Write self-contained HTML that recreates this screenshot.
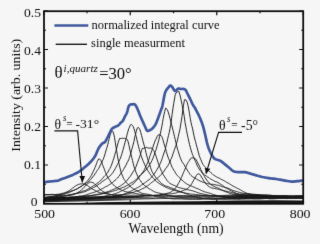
<!DOCTYPE html>
<html><head><meta charset="utf-8"><style>html,body{margin:0;padding:0;background:#f6f6f6;overflow:hidden}svg{display:block;will-change:transform}</style></head>
<body><svg width="320" height="244" viewBox="0 0 320 244"><rect width="320" height="244" fill="#f6f6f6"/><defs><filter id="bl" x="0" y="0" width="320" height="244" filterUnits="userSpaceOnUse"><feConvolveMatrix order="3" kernelMatrix="0.00524 0.06192 0.00524 0.06192 0.73137 0.06192 0.00524 0.06192 0.00524" edgeMode="duplicate"/></filter></defs><g filter="url(#bl)"><defs><linearGradient id="bg1" x1="44" x2="303" y1="0" y2="0" gradientUnits="userSpaceOnUse"><stop offset="0" stop-color="#111" stop-opacity="0.9"/><stop offset="0.28" stop-color="#111" stop-opacity="0.8"/><stop offset="0.45" stop-color="#111" stop-opacity="0.25"/><stop offset="1" stop-color="#111" stop-opacity="0"/></linearGradient></defs><path d="M44,197.3 L80,196.6 L100,196.2 L116,195.8 L140,196.5 L160,196.5 L200,195.5 L200,197.8 L160,199.2 L120,200.5 L80,201.5 L44,202.2Z" fill="url(#bg1)"/><defs><linearGradient id="bg2" x1="220" x2="303" y1="0" y2="0" gradientUnits="userSpaceOnUse"><stop offset="0" stop-color="#111" stop-opacity="0"/><stop offset="0.3" stop-color="#111" stop-opacity="0.75"/><stop offset="1" stop-color="#111" stop-opacity="0.85"/></linearGradient></defs><path d="M220,194.5 L236,193.6 L250,193.5 L262,194.3 L276,195.2 L290,195.9 L303,196.1 L303,198.6 L276,198.4 L250,198.3 L236,198.3 L220,198.6Z" fill="url(#bg2)"/><path d="M44,203 L80,203 L100,202.2 L116,201.9 L156,201.6 L196,201.2 L236,200.4 L276,200.3 L303,200.5 L303,203.2 L44,203.2Z" fill="#151515"/><path d="M44,194.8 L62,194.9" fill="none" stroke="#111" stroke-width="0.9"/><path d="M44.00,194.82 L44.75,194.80 L45.50,194.72 L46.25,194.67 L47.00,194.61 L47.75,194.56 L48.50,194.54 L49.25,194.50 L50.00,194.53 L50.75,194.42 L51.50,194.37 L52.25,194.36 L53.00,194.42 L53.75,194.50 L54.50,194.51 L55.25,194.51 L56.00,194.46 L56.75,194.34 L57.50,194.29 L58.25,194.28 L59.00,194.21 L59.75,194.03 L60.50,193.88 L61.25,193.64 L62.00,193.44 L62.75,193.23 L63.50,193.06 L64.25,192.89 L65.00,192.61 L65.75,192.33 L66.50,191.99 L67.25,191.56 L68.00,191.27 L68.75,190.90 L69.50,190.52 L70.25,189.90 L71.00,189.36 L71.75,188.75 L72.50,188.14 L73.25,187.70 L74.00,187.13 L74.75,186.44 L75.50,185.98 L76.25,185.46 L77.00,185.12 L77.75,184.73 L78.50,184.39 L79.25,184.19 L80.00,184.03 L80.75,183.89 L81.50,183.95 L82.25,183.77 L83.00,183.75 L83.75,183.89 L84.50,184.05 L85.25,184.48 L86.00,184.75 L86.75,185.05 L87.50,185.55 L88.25,186.12 L89.00,186.71 L89.75,187.31 L90.50,187.71 L91.25,188.33 L92.00,188.81 L92.75,189.29 L93.50,189.62 L94.25,189.99 L95.00,190.46 L95.75,190.95 L96.50,191.28 L97.25,191.75 L98.00,192.04 L98.75,192.22 L99.50,192.47 L100.25,192.80 L101.00,193.05 L101.75,193.16 L102.50,193.17 L103.25,193.34 L104.00,193.44 L104.75,193.51 L105.50,193.76 L106.25,193.86 L107.00,193.93 L107.75,194.01 L108.50,194.20 L109.25,194.36 L110.00,194.42 L110.75,194.57 L111.50,194.66 L112.25,194.60 L113.00,194.75 L113.75,194.76 L114.50,194.80 L115.25,194.76 L116.00,194.75 L116.75,194.79 L117.50,194.74 L118.25,194.72 L119.00,194.82 L119.75,194.81 L120.50,194.86 L121.25,194.90 L122.00,194.96 L122.75,194.96 L123.50,194.95 L124.25,194.99 L125.00,195.11 L125.75,195.12 L126.50,195.13 L127.25,195.20 L128.00,195.16 L128.75,195.19 L129.50,195.20 L130.25,195.32 L131.00,195.35 L131.75,195.29 L132.50,195.26 L133.25,195.23 L134.00,195.22 L134.75,195.29 L135.50,195.26 L136.25,195.30 L137.00,195.27 L137.75,195.24 L138.50,195.25 L139.25,195.31 L140.00,195.33 L140.75,195.33 L141.50,195.26 L142.25,195.27 L143.00,195.32 L143.75,195.33 L144.50,195.36 L145.25,195.35 L146.00,195.37 L146.75,195.40 L147.50,195.35 L148.25,195.54 L149.00,195.61 L149.75,195.59 L150.50,195.56 L151.25,195.56 L152.00,195.62 L152.75,195.59 L153.50,195.60 L154.25,195.70 L155.00,195.50 L155.75,195.45 L156.50,195.48 L157.25,195.51 L158.00,195.53 L158.75,195.52 L159.50,195.66 L160.25,195.69 L161.00,195.63 L161.75,195.78 L162.50,195.80 L163.25,195.75 L164.00,195.71 L164.75,195.64 L165.50,195.71 L166.25,195.62 L167.00,195.62 L167.75,195.63 L168.50,195.55 L169.25,195.65 L170.00,195.65 L170.75,195.74 L171.50,195.78 L172.25,195.77 L173.00,195.75 L173.75,195.69 L174.50,195.73 L175.25,195.77 L176.00,195.63 L176.75,195.67 L177.50,195.61 L178.25,195.58 L179.00,195.48 L179.75,195.50 L180.50,195.44 L181.25,195.48 L182.00,195.46 L182.75,195.50 L183.50,195.50 L184.25,195.47 L185.00,195.53 L185.75,195.54 L186.50,195.60 L187.25,195.77 L188.00,195.70 L188.75,195.77 L189.50,195.81 L190.25,195.87 L191.00,195.85 L191.75,195.83 L192.50,195.80 L193.25,195.78 L194.00,195.72 L194.75,195.79 L195.50,195.72 L196.25,195.62 L197.00,195.60 L197.75,195.59 L198.50,195.58 L199.25,195.65 L200.00,195.69 L200.75,195.63 L201.50,195.59 L202.25,195.65 L203.00,195.70 L203.75,195.65 L204.50,195.65 L205.25,195.73 L206.00,195.68 L206.75,195.54 L207.50,195.54 L208.25,195.55 L209.00,195.56 L209.75,195.53 L210.50,195.55 L211.25,195.60 L212.00,195.51 L212.75,195.56 L213.50,195.72 L214.25,195.79 L215.00,195.86 L215.75,195.80 L216.50,195.83 L217.25,195.86 L218.00,195.86 L218.75,195.89 L219.50,195.88 L220.25,195.73 L221.00,195.72 L221.75,195.61 L222.50,195.58 L223.25,195.53 L224.00,195.53 L224.75,195.50 L225.50,195.61 L226.25,195.66 L227.00,195.79 L227.75,195.75 L228.50,195.84 L229.25,195.90 L230.00,195.97 L230.75,195.95 L231.50,196.01 L232.25,195.93 L233.00,195.81 L233.75,195.73 L234.50,195.76 L235.25,195.67 L236.00,195.68 L236.75,195.72 L237.50,195.74 L238.25,195.68 L239.00,195.76 L239.75,195.85 L240.50,195.81 L241.25,195.81 L242.00,195.85 L242.75,195.81 L243.50,195.75 L244.25,195.78 L245.00,195.89 L245.75,195.85 L246.50,195.79 L247.25,195.85 L248.00,195.92 L248.75,195.95 L249.50,196.05 L250.25,196.06 L251.00,196.06 L251.75,195.99 L252.50,196.06 L253.25,196.08 L254.00,196.09 L254.75,196.13 L255.50,196.07 L256.25,196.02 L257.00,196.11 L257.75,196.10 L258.50,196.10 L259.25,196.03 L260.00,196.01 L260.75,195.95 L261.50,195.85 L262.25,195.87 L263.00,195.81 L263.75,195.69 L264.50,195.64 L265.25,195.74 L266.00,195.68 L266.75,195.66 L267.50,195.71 L268.25,195.75 L269.00,195.69 L269.75,195.82 L270.50,195.82 L271.25,195.75 L272.00,195.70 L272.75,195.71 L273.50,195.69 L274.25,195.68 L275.00,195.64 L275.75,195.69 L276.50,195.65 L277.25,195.68 L278.00,195.76 L278.75,195.70 L279.50,195.73 L280.25,195.81 L281.00,195.85 L281.75,195.89 L282.50,195.89 L283.25,195.85 L284.00,195.88 L284.75,195.93 L285.50,195.85 L286.25,195.81 L287.00,195.78 L287.75,195.84 L288.50,195.80 L289.25,195.82 L290.00,195.76 L290.75,195.71 L291.50,195.68 L292.25,195.77 L293.00,195.89 L293.75,195.88 L294.50,195.76 L295.25,195.82 L296.00,195.78 L296.75,195.78 L297.50,195.85 L298.25,195.88 L299.00,195.89 L299.75,195.81 L300.50,195.85 L301.25,195.86 L302.00,195.82 L302.75,195.89" fill="none" stroke="#151515" stroke-width="0.92"/><path d="M44.00,197.27 L44.75,197.30 L45.50,197.18 L46.25,197.11 L47.00,197.00 L47.75,196.90 L48.50,196.85 L49.25,196.89 L50.00,196.97 L50.75,196.90 L51.50,196.80 L52.25,196.80 L53.00,196.81 L53.75,196.84 L54.50,196.80 L55.25,196.68 L56.00,196.61 L56.75,196.44 L57.50,196.35 L58.25,196.24 L59.00,196.19 L59.75,196.11 L60.50,196.06 L61.25,195.99 L62.00,195.93 L62.75,195.86 L63.50,195.77 L64.25,195.65 L65.00,195.59 L65.75,195.54 L66.50,195.36 L67.25,195.16 L68.00,195.01 L68.75,194.87 L69.50,194.71 L70.25,194.60 L71.00,194.54 L71.75,194.35 L72.50,194.14 L73.25,193.91 L74.00,193.81 L74.75,193.74 L75.50,193.53 L76.25,193.18 L77.00,192.84 L77.75,192.47 L78.50,192.15 L79.25,191.65 L80.00,191.23 L80.75,190.66 L81.50,189.83 L82.25,189.12 L83.00,188.60 L83.75,187.85 L84.50,186.88 L85.25,185.98 L86.00,185.16 L86.75,184.53 L87.50,183.84 L88.25,183.26 L89.00,182.81 L89.75,182.31 L90.50,182.09 L91.25,182.13 L92.00,182.41 L92.75,182.61 L93.50,182.89 L94.25,183.52 L95.00,184.30 L95.75,184.80 L96.50,185.71 L97.25,186.47 L98.00,187.21 L98.75,187.91 L99.50,188.86 L100.25,189.55 L101.00,190.08 L101.75,190.53 L102.50,191.13 L103.25,191.54 L104.00,191.94 L104.75,192.34 L105.50,192.66 L106.25,192.89 L107.00,193.20 L107.75,193.45 L108.50,193.81 L109.25,194.11 L110.00,194.32 L110.75,194.63 L111.50,194.86 L112.25,195.14 L113.00,195.33 L113.75,195.43 L114.50,195.58 L115.25,195.66 L116.00,195.76 L116.75,195.95 L117.50,195.90 L118.25,195.96 L119.00,195.91 L119.75,196.02 L120.50,196.15 L121.25,196.35 L122.00,196.40 L122.75,196.43 L123.50,196.53 L124.25,196.69 L125.00,196.76 L125.75,196.96 L126.50,197.07 L127.25,197.17 L128.00,197.18 L128.75,197.34 L129.50,197.44 L130.25,197.40 L131.00,197.42 L131.75,197.47 L132.50,197.38 L133.25,197.30 L134.00,197.36 L134.75,197.40 L135.50,197.43 L136.25,197.52 L137.00,197.58 L137.75,197.64 L138.50,197.69 L139.25,197.85 L140.00,197.99 L140.75,197.97 L141.50,197.99 L142.25,197.99 L143.00,197.98 L143.75,198.03 L144.50,198.03 L145.25,198.06 L146.00,198.03 L146.75,198.03 L147.50,198.06 L148.25,198.18 L149.00,198.23 L149.75,198.24 L150.50,198.29 L151.25,198.33 L152.00,198.35 L152.75,198.42 L153.50,198.42 L154.25,198.44 L155.00,198.32 L155.75,198.27 L156.50,198.28 L157.25,198.27 L158.00,198.29 L158.75,198.31 L159.50,198.24 L160.25,198.22 L161.00,198.24 L161.75,198.32 L162.50,198.37 L163.25,198.40 L164.00,198.42 L164.75,198.42 L165.50,198.44 L166.25,198.47 L167.00,198.46 L167.75,198.45 L168.50,198.31 L169.25,198.31 L170.00,198.24 L170.75,198.19 L171.50,198.14 L172.25,198.21 L173.00,198.25 L173.75,198.26 L174.50,198.22 L175.25,198.21 L176.00,198.19 L176.75,198.18 L177.50,198.15 L178.25,198.15 L179.00,198.04 L179.75,198.01 L180.50,198.00 L181.25,198.06 L182.00,198.10 L182.75,198.15 L183.50,198.19 L184.25,198.13 L185.00,198.17 L185.75,198.19 L186.50,198.13 L187.25,198.14 L188.00,198.12 L188.75,198.16 L189.50,198.09 L190.25,198.06 L191.00,198.17 L191.75,198.09 L192.50,198.01 L193.25,198.05 L194.00,198.04 L194.75,198.01 L195.50,197.96 L196.25,198.00 L197.00,198.00 L197.75,197.98 L198.50,198.07 L199.25,198.10 L200.00,198.04 L200.75,198.04 L201.50,198.04 L202.25,198.06 L203.00,198.02 L203.75,198.03 L204.50,197.94 L205.25,197.86 L206.00,197.90 L206.75,197.85 L207.50,197.84 L208.25,197.77 L209.00,197.82 L209.75,197.81 L210.50,197.89 L211.25,197.87 L212.00,197.85 L212.75,197.86 L213.50,198.01 L214.25,198.06 L215.00,198.03 L215.75,198.02 L216.50,198.01 L217.25,197.94 L218.00,198.00 L218.75,198.09 L219.50,198.03 L220.25,198.02 L221.00,197.94 L221.75,197.97 L222.50,197.92 L223.25,197.91 L224.00,197.93 L224.75,197.90 L225.50,197.87 L226.25,197.79 L227.00,197.69 L227.75,197.68 L228.50,197.70 L229.25,197.74 L230.00,197.75 L230.75,197.72 L231.50,197.70 L232.25,197.65 L233.00,197.67 L233.75,197.61 L234.50,197.62 L235.25,197.59 L236.00,197.43 L236.75,197.46 L237.50,197.45 L238.25,197.44 L239.00,197.44 L239.75,197.44 L240.50,197.52 L241.25,197.46 L242.00,197.45 L242.75,197.51 L243.50,197.50 L244.25,197.50 L245.00,197.49 L245.75,197.53 L246.50,197.57 L247.25,197.52 L248.00,197.55 L248.75,197.51 L249.50,197.50 L250.25,197.40 L251.00,197.33 L251.75,197.32 L252.50,197.32 L253.25,197.26 L254.00,197.25 L254.75,197.23 L255.50,197.25 L256.25,197.23 L257.00,197.27 L257.75,197.25 L258.50,197.15 L259.25,197.10 L260.00,197.08 L260.75,197.09 L261.50,196.99 L262.25,196.96 L263.00,196.94 L263.75,196.91 L264.50,196.93 L265.25,196.98 L266.00,197.02 L266.75,196.95 L267.50,196.89 L268.25,197.01 L269.00,196.98 L269.75,197.00 L270.50,196.94 L271.25,196.91 L272.00,196.95 L272.75,196.87 L273.50,196.86 L274.25,196.90 L275.00,196.85 L275.75,196.92 L276.50,196.95 L277.25,196.94 L278.00,196.87 L278.75,196.77 L279.50,196.74 L280.25,196.69 L281.00,196.68 L281.75,196.65 L282.50,196.55 L283.25,196.47 L284.00,196.50 L284.75,196.60 L285.50,196.59 L286.25,196.57 L287.00,196.70 L287.75,196.67 L288.50,196.65 L289.25,196.63 L290.00,196.64 L290.75,196.59 L291.50,196.54 L292.25,196.49 L293.00,196.43 L293.75,196.38 L294.50,196.32 L295.25,196.31 L296.00,196.31 L296.75,196.26 L297.50,196.18 L298.25,196.16 L299.00,196.19 L299.75,196.22 L300.50,196.18 L301.25,196.20 L302.00,196.14 L302.75,196.12" fill="none" stroke="#151515" stroke-width="0.92"/><path d="M44.00,197.76 L44.75,197.74 L45.50,197.61 L46.25,197.48 L47.00,197.38 L47.75,197.16 L48.50,197.06 L49.25,196.93 L50.00,196.80 L50.75,196.70 L51.50,196.51 L52.25,196.37 L53.00,196.21 L53.75,196.05 L54.50,195.93 L55.25,195.79 L56.00,195.60 L56.75,195.38 L57.50,195.17 L58.25,194.85 L59.00,194.71 L59.75,194.57 L60.50,194.37 L61.25,194.14 L62.00,193.98 L62.75,193.91 L63.50,193.76 L64.25,193.47 L65.00,193.35 L65.75,192.95 L66.50,192.71 L67.25,192.47 L68.00,192.23 L68.75,191.88 L69.50,191.39 L70.25,191.24 L71.00,191.03 L71.75,191.01 L72.50,190.83 L73.25,190.57 L74.00,190.21 L74.75,189.81 L75.50,189.50 L76.25,189.28 L77.00,188.87 L77.75,188.52 L78.50,187.91 L79.25,187.50 L80.00,187.03 L80.75,186.63 L81.50,186.33 L82.25,185.74 L83.00,185.12 L83.75,184.51 L84.50,183.74 L85.25,183.03 L86.00,182.48 L86.75,181.56 L87.50,180.68 L88.25,179.86 L89.00,178.86 L89.75,177.82 L90.50,176.83 L91.25,175.47 L92.00,174.04 L92.75,172.29 L93.50,170.85 L94.25,169.21 L95.00,167.48 L95.75,165.58 L96.50,163.69 L97.25,161.56 L98.00,160.08 L98.75,158.89 L99.50,158.86 L100.25,159.63 L101.00,160.79 L101.75,162.49 L102.50,164.60 L103.25,166.51 L104.00,168.33 L104.75,170.48 L105.50,172.47 L106.25,174.18 L107.00,175.87 L107.75,177.33 L108.50,178.33 L109.25,179.58 L110.00,180.69 L110.75,181.95 L111.50,182.84 L112.25,183.70 L113.00,184.60 L113.75,185.18 L114.50,185.69 L115.25,186.46 L116.00,187.04 L116.75,187.58 L117.50,188.05 L118.25,188.45 L119.00,188.79 L119.75,189.18 L120.50,189.55 L121.25,190.12 L122.00,190.32 L122.75,190.65 L123.50,190.98 L124.25,191.20 L125.00,191.48 L125.75,191.68 L126.50,191.87 L127.25,192.12 L128.00,192.20 L128.75,192.34 L129.50,192.43 L130.25,192.54 L131.00,192.61 L131.75,192.74 L132.50,193.00 L133.25,193.03 L134.00,193.04 L134.75,193.30 L135.50,193.52 L136.25,193.62 L137.00,193.72 L137.75,193.86 L138.50,194.00 L139.25,194.10 L140.00,194.32 L140.75,194.47 L141.50,194.53 L142.25,194.67 L143.00,194.78 L143.75,194.99 L144.50,195.12 L145.25,195.20 L146.00,195.21 L146.75,195.32 L147.50,195.47 L148.25,195.51 L149.00,195.53 L149.75,195.62 L150.50,195.60 L151.25,195.62 L152.00,195.61 L152.75,195.61 L153.50,195.66 L154.25,195.69 L155.00,195.82 L155.75,195.79 L156.50,195.83 L157.25,195.87 L158.00,195.92 L158.75,196.05 L159.50,196.14 L160.25,196.14 L161.00,196.22 L161.75,196.14 L162.50,196.20 L163.25,196.27 L164.00,196.26 L164.75,196.29 L165.50,196.24 L166.25,196.26 L167.00,196.22 L167.75,196.18 L168.50,196.17 L169.25,196.25 L170.00,196.16 L170.75,196.23 L171.50,196.26 L172.25,196.22 L173.00,196.23 L173.75,196.30 L174.50,196.34 L175.25,196.41 L176.00,196.40 L176.75,196.39 L177.50,196.35 L178.25,196.33 L179.00,196.40 L179.75,196.37 L180.50,196.38 L181.25,196.36 L182.00,196.30 L182.75,196.30 L183.50,196.35 L184.25,196.39 L185.00,196.43 L185.75,196.40 L186.50,196.44 L187.25,196.47 L188.00,196.43 L188.75,196.46 L189.50,196.50 L190.25,196.46 L191.00,196.44 L191.75,196.45 L192.50,196.44 L193.25,196.40 L194.00,196.37 L194.75,196.37 L195.50,196.41 L196.25,196.28 L197.00,196.33 L197.75,196.26 L198.50,196.27 L199.25,196.27 L200.00,196.23 L200.75,196.30 L201.50,196.34 L202.25,196.28 L203.00,196.37 L203.75,196.38 L204.50,196.34 L205.25,196.31 L206.00,196.40 L206.75,196.45 L207.50,196.42 L208.25,196.35 L209.00,196.39 L209.75,196.38 L210.50,196.30 L211.25,196.38 L212.00,196.44 L212.75,196.44 L213.50,196.42 L214.25,196.32 L215.00,196.40 L215.75,196.34 L216.50,196.32 L217.25,196.35 L218.00,196.44 L218.75,196.40 L219.50,196.29 L220.25,196.31 L221.00,196.30 L221.75,196.36 L222.50,196.39 L223.25,196.39 L224.00,196.31 L224.75,196.26 L225.50,196.26 L226.25,196.29 L227.00,196.29 L227.75,196.34 L228.50,196.19 L229.25,196.23 L230.00,196.24 L230.75,196.36 L231.50,196.32 L232.25,196.33 L233.00,196.40 L233.75,196.39 L234.50,196.36 L235.25,196.42 L236.00,196.38 L236.75,196.36 L237.50,196.37 L238.25,196.39 L239.00,196.34 L239.75,196.25 L240.50,196.31 L241.25,196.41 L242.00,196.33 L242.75,196.33 L243.50,196.37 L244.25,196.34 L245.00,196.33 L245.75,196.37 L246.50,196.43 L247.25,196.45 L248.00,196.39 L248.75,196.46 L249.50,196.52 L250.25,196.50 L251.00,196.54 L251.75,196.53 L252.50,196.55 L253.25,196.50 L254.00,196.42 L254.75,196.39 L255.50,196.39 L256.25,196.35 L257.00,196.37 L257.75,196.39 L258.50,196.44 L259.25,196.39 L260.00,196.43 L260.75,196.48 L261.50,196.46 L262.25,196.40 L263.00,196.37 L263.75,196.36 L264.50,196.30 L265.25,196.28 L266.00,196.30 L266.75,196.30 L267.50,196.31 L268.25,196.41 L269.00,196.46 L269.75,196.49 L270.50,196.56 L271.25,196.55 L272.00,196.53 L272.75,196.53 L273.50,196.44 L274.25,196.54 L275.00,196.48 L275.75,196.54 L276.50,196.51 L277.25,196.36 L278.00,196.47 L278.75,196.48 L279.50,196.46 L280.25,196.56 L281.00,196.43 L281.75,196.52 L282.50,196.41 L283.25,196.44 L284.00,196.55 L284.75,196.48 L285.50,196.46 L286.25,196.50 L287.00,196.49 L287.75,196.53 L288.50,196.53 L289.25,196.57 L290.00,196.58 L290.75,196.56 L291.50,196.57 L292.25,196.60 L293.00,196.56 L293.75,196.57 L294.50,196.50 L295.25,196.33 L296.00,196.37 L296.75,196.46 L297.50,196.46 L298.25,196.37 L299.00,196.33 L299.75,196.33 L300.50,196.33 L301.25,196.37 L302.00,196.46 L302.75,196.41" fill="none" stroke="#151515" stroke-width="0.92"/><path d="M44.00,198.07 L44.75,198.02 L45.50,197.80 L46.25,197.61 L47.00,197.54 L47.75,197.44 L48.50,197.30 L49.25,197.26 L50.00,197.05 L50.75,196.85 L51.50,196.73 L52.25,196.66 L53.00,196.64 L53.75,196.46 L54.50,196.29 L55.25,196.17 L56.00,195.96 L56.75,195.90 L57.50,195.83 L58.25,195.72 L59.00,195.68 L59.75,195.52 L60.50,195.35 L61.25,195.16 L62.00,194.92 L62.75,194.73 L63.50,194.53 L64.25,194.26 L65.00,194.03 L65.75,193.74 L66.50,193.43 L67.25,193.15 L68.00,192.91 L68.75,192.69 L69.50,192.37 L70.25,192.04 L71.00,191.66 L71.75,191.18 L72.50,190.85 L73.25,190.47 L74.00,190.21 L74.75,189.89 L75.50,189.58 L76.25,189.35 L77.00,188.86 L77.75,188.40 L78.50,188.04 L79.25,187.61 L80.00,187.19 L80.75,186.64 L81.50,186.04 L82.25,185.61 L83.00,185.11 L83.75,184.70 L84.50,184.21 L85.25,183.66 L86.00,183.24 L86.75,182.81 L87.50,182.36 L88.25,181.96 L89.00,181.02 L89.75,180.34 L90.50,179.68 L91.25,178.85 L92.00,177.95 L92.75,176.98 L93.50,176.14 L94.25,175.09 L95.00,173.79 L95.75,172.89 L96.50,171.53 L97.25,170.36 L98.00,169.38 L98.75,168.29 L99.50,166.90 L100.25,165.10 L101.00,163.83 L101.75,162.46 L102.50,160.74 L103.25,159.18 L104.00,157.23 L104.75,155.01 L105.50,152.21 L106.25,149.69 L107.00,147.32 L107.75,144.64 L108.50,141.32 L109.25,138.52 L110.00,135.58 L110.75,133.21 L111.50,131.28 L112.25,130.90 L113.00,131.81 L113.75,134.14 L114.50,137.31 L115.25,142.19 L116.00,147.14 L116.75,151.49 L117.50,155.84 L118.25,160.25 L119.00,163.70 L119.75,167.04 L120.50,170.07 L121.25,172.55 L122.00,174.66 L122.75,176.56 L123.50,178.37 L124.25,179.55 L125.00,180.54 L125.75,181.68 L126.50,182.60 L127.25,183.44 L128.00,184.24 L128.75,184.96 L129.50,185.56 L130.25,186.40 L131.00,187.12 L131.75,187.79 L132.50,188.23 L133.25,188.76 L134.00,189.18 L134.75,189.43 L135.50,189.96 L136.25,190.42 L137.00,190.70 L137.75,191.21 L138.50,191.60 L139.25,191.93 L140.00,192.23 L140.75,192.65 L141.50,193.16 L142.25,193.32 L143.00,193.55 L143.75,193.73 L144.50,193.81 L145.25,193.85 L146.00,193.99 L146.75,194.12 L147.50,194.23 L148.25,194.35 L149.00,194.50 L149.75,194.58 L150.50,194.78 L151.25,194.97 L152.00,195.21 L152.75,195.49 L153.50,195.74 L154.25,195.98 L155.00,196.17 L155.75,196.49 L156.50,196.65 L157.25,196.75 L158.00,196.97 L158.75,197.05 L159.50,197.14 L160.25,197.33 L161.00,197.31 L161.75,197.37 L162.50,197.32 L163.25,197.54 L164.00,197.64 L164.75,197.67 L165.50,197.82 L166.25,197.94 L167.00,197.91 L167.75,198.13 L168.50,198.29 L169.25,198.50 L170.00,198.55 L170.75,198.66 L171.50,198.73 L172.25,198.79 L173.00,198.85 L173.75,198.98 L174.50,198.99 L175.25,198.95 L176.00,198.91 L176.75,198.92 L177.50,198.95 L178.25,198.94 L179.00,199.01 L179.75,199.02 L180.50,198.98 L181.25,199.00 L182.00,199.03 L182.75,199.13 L183.50,199.12 L184.25,199.12 L185.00,199.26 L185.75,199.23 L186.50,199.30 L187.25,199.31 L188.00,199.34 L188.75,199.39 L189.50,199.34 L190.25,199.41 L191.00,199.41 L191.75,199.37 L192.50,199.38 L193.25,199.34 L194.00,199.39 L194.75,199.47 L195.50,199.42 L196.25,199.43 L197.00,199.49 L197.75,199.49 L198.50,199.44 L199.25,199.42 L200.00,199.46 L200.75,199.40 L201.50,199.29 L202.25,199.24 L203.00,199.24 L203.75,199.13 L204.50,199.14 L205.25,199.20 L206.00,199.19 L206.75,199.10 L207.50,199.09 L208.25,199.03 L209.00,199.14 L209.75,199.19 L210.50,199.23 L211.25,199.23 L212.00,199.21 L212.75,199.22 L213.50,199.23 L214.25,199.29 L215.00,199.30 L215.75,199.27 L216.50,199.18 L217.25,199.11 L218.00,199.03 L218.75,199.01 L219.50,199.08 L220.25,199.02 L221.00,198.99 L221.75,198.94 L222.50,198.98 L223.25,198.99 L224.00,199.00 L224.75,199.08 L225.50,199.06 L226.25,198.95 L227.00,198.95 L227.75,198.87 L228.50,198.93 L229.25,198.91 L230.00,198.86 L230.75,198.80 L231.50,198.72 L232.25,198.73 L233.00,198.71 L233.75,198.71 L234.50,198.73 L235.25,198.70 L236.00,198.61 L236.75,198.58 L237.50,198.63 L238.25,198.69 L239.00,198.61 L239.75,198.60 L240.50,198.61 L241.25,198.58 L242.00,198.57 L242.75,198.56 L243.50,198.59 L244.25,198.52 L245.00,198.37 L245.75,198.37 L246.50,198.29 L247.25,198.21 L248.00,198.19 L248.75,198.13 L249.50,198.03 L250.25,198.01 L251.00,198.02 L251.75,198.10 L252.50,198.05 L253.25,198.06 L254.00,198.08 L254.75,198.08 L255.50,198.09 L256.25,198.13 L257.00,198.16 L257.75,198.10 L258.50,198.05 L259.25,198.09 L260.00,198.16 L260.75,198.19 L261.50,198.15 L262.25,198.08 L263.00,198.12 L263.75,198.01 L264.50,197.99 L265.25,197.98 L266.00,197.97 L266.75,197.95 L267.50,197.92 L268.25,197.92 L269.00,197.96 L269.75,197.96 L270.50,197.97 L271.25,198.05 L272.00,197.97 L272.75,197.93 L273.50,197.91 L274.25,197.90 L275.00,197.91 L275.75,197.82 L276.50,197.69 L277.25,197.65 L278.00,197.56 L278.75,197.63 L279.50,197.58 L280.25,197.56 L281.00,197.54 L281.75,197.47 L282.50,197.53 L283.25,197.58 L284.00,197.62 L284.75,197.69 L285.50,197.59 L286.25,197.49 L287.00,197.44 L287.75,197.42 L288.50,197.52 L289.25,197.46 L290.00,197.37 L290.75,197.29 L291.50,197.15 L292.25,197.09 L293.00,197.08 L293.75,197.08 L294.50,196.98 L295.25,196.81 L296.00,196.86 L296.75,196.90 L297.50,196.95 L298.25,196.97 L299.00,196.98 L299.75,197.05 L300.50,197.01 L301.25,197.05 L302.00,197.07 L302.75,196.99" fill="none" stroke="#151515" stroke-width="0.92"/><path d="M44.00,198.21 L44.75,198.11 L45.50,197.97 L46.25,197.84 L47.00,197.81 L47.75,197.66 L48.50,197.66 L49.25,197.57 L50.00,197.53 L50.75,197.41 L51.50,197.44 L52.25,197.43 L53.00,197.47 L53.75,197.36 L54.50,197.28 L55.25,197.13 L56.00,197.04 L56.75,197.02 L57.50,196.92 L58.25,196.69 L59.00,196.65 L59.75,196.52 L60.50,196.39 L61.25,196.24 L62.00,196.18 L62.75,196.18 L63.50,196.10 L64.25,195.99 L65.00,195.93 L65.75,195.65 L66.50,195.58 L67.25,195.45 L68.00,195.33 L68.75,195.29 L69.50,195.11 L70.25,194.88 L71.00,194.76 L71.75,194.62 L72.50,194.56 L73.25,194.37 L74.00,194.23 L74.75,194.11 L75.50,193.85 L76.25,193.57 L77.00,193.40 L77.75,193.13 L78.50,192.80 L79.25,192.59 L80.00,192.30 L80.75,192.04 L81.50,191.76 L82.25,191.38 L83.00,191.22 L83.75,190.85 L84.50,190.61 L85.25,190.47 L86.00,190.03 L86.75,189.75 L87.50,189.34 L88.25,188.90 L89.00,188.51 L89.75,188.11 L90.50,187.66 L91.25,187.09 L92.00,186.60 L92.75,186.32 L93.50,185.57 L94.25,185.23 L95.00,184.82 L95.75,184.50 L96.50,183.82 L97.25,183.34 L98.00,182.88 L98.75,182.07 L99.50,181.44 L100.25,180.97 L101.00,180.11 L101.75,179.42 L102.50,178.42 L103.25,177.40 L104.00,176.70 L104.75,175.89 L105.50,175.24 L106.25,174.36 L107.00,173.22 L107.75,172.47 L108.50,170.94 L109.25,169.46 L110.00,168.50 L110.75,166.70 L111.50,165.08 L112.25,162.85 L113.00,160.59 L113.75,158.52 L114.50,155.75 L115.25,153.22 L116.00,150.98 L116.75,147.87 L117.50,145.18 L118.25,142.01 L119.00,140.18 L119.75,138.27 L120.50,138.46 L121.25,138.59 L122.00,138.19 L122.75,138.06 L123.50,138.41 L124.25,138.18 L125.00,138.50 L125.75,138.65 L126.50,139.11 L127.25,139.53 L128.00,141.32 L128.75,144.54 L129.50,147.91 L130.25,151.20 L131.00,154.35 L131.75,157.41 L132.50,160.44 L133.25,163.63 L134.00,166.68 L134.75,168.76 L135.50,171.13 L136.25,172.99 L137.00,174.60 L137.75,176.41 L138.50,177.92 L139.25,179.27 L140.00,180.32 L140.75,181.06 L141.50,182.39 L142.25,183.07 L143.00,184.05 L143.75,184.85 L144.50,185.50 L145.25,186.03 L146.00,186.61 L146.75,187.03 L147.50,187.66 L148.25,188.15 L149.00,188.64 L149.75,189.02 L150.50,189.47 L151.25,189.88 L152.00,190.52 L152.75,190.80 L153.50,191.24 L154.25,191.69 L155.00,191.96 L155.75,192.23 L156.50,192.48 L157.25,192.61 L158.00,192.94 L158.75,193.10 L159.50,193.23 L160.25,193.38 L161.00,193.46 L161.75,193.70 L162.50,193.91 L163.25,194.07 L164.00,194.30 L164.75,194.42 L165.50,194.46 L166.25,194.76 L167.00,195.00 L167.75,195.28 L168.50,195.33 L169.25,195.56 L170.00,195.77 L170.75,195.98 L171.50,196.14 L172.25,196.38 L173.00,196.48 L173.75,196.58 L174.50,196.64 L175.25,196.85 L176.00,196.91 L176.75,196.98 L177.50,197.03 L178.25,197.08 L179.00,197.10 L179.75,197.26 L180.50,197.34 L181.25,197.42 L182.00,197.42 L182.75,197.55 L183.50,197.63 L184.25,197.71 L185.00,197.79 L185.75,197.82 L186.50,197.80 L187.25,197.78 L188.00,197.86 L188.75,198.01 L189.50,197.93 L190.25,197.93 L191.00,197.93 L191.75,197.95 L192.50,198.00 L193.25,198.07 L194.00,198.10 L194.75,198.09 L195.50,198.00 L196.25,198.07 L197.00,198.19 L197.75,198.28 L198.50,198.26 L199.25,198.30 L200.00,198.28 L200.75,198.33 L201.50,198.34 L202.25,198.41 L203.00,198.42 L203.75,198.34 L204.50,198.24 L205.25,198.29 L206.00,198.22 L206.75,198.14 L207.50,198.08 L208.25,198.03 L209.00,198.01 L209.75,198.01 L210.50,198.02 L211.25,198.11 L212.00,198.12 L212.75,198.22 L213.50,198.23 L214.25,198.27 L215.00,198.33 L215.75,198.41 L216.50,198.42 L217.25,198.43 L218.00,198.44 L218.75,198.48 L219.50,198.54 L220.25,198.58 L221.00,198.60 L221.75,198.47 L222.50,198.39 L223.25,198.39 L224.00,198.31 L224.75,198.26 L225.50,198.20 L226.25,198.12 L227.00,198.16 L227.75,198.09 L228.50,198.14 L229.25,198.07 L230.00,198.07 L230.75,198.12 L231.50,198.15 L232.25,198.11 L233.00,198.14 L233.75,198.09 L234.50,198.10 L235.25,198.07 L236.00,198.17 L236.75,198.10 L237.50,198.12 L238.25,198.11 L239.00,198.19 L239.75,198.08 L240.50,198.03 L241.25,198.09 L242.00,198.16 L242.75,198.13 L243.50,198.06 L244.25,197.99 L245.00,197.97 L245.75,197.98 L246.50,198.04 L247.25,198.05 L248.00,197.94 L248.75,197.91 L249.50,197.91 L250.25,198.02 L251.00,198.13 L251.75,198.06 L252.50,198.02 L253.25,197.94 L254.00,198.05 L254.75,198.16 L255.50,198.13 L256.25,198.12 L257.00,198.06 L257.75,197.97 L258.50,198.04 L259.25,197.96 L260.00,197.96 L260.75,197.96 L261.50,197.82 L262.25,197.80 L263.00,197.73 L263.75,197.82 L264.50,197.84 L265.25,197.80 L266.00,197.77 L266.75,197.85 L267.50,197.80 L268.25,197.94 L269.00,197.96 L269.75,197.96 L270.50,197.94 L271.25,197.92 L272.00,197.88 L272.75,197.85 L273.50,197.75 L274.25,197.71 L275.00,197.67 L275.75,197.68 L276.50,197.71 L277.25,197.63 L278.00,197.59 L278.75,197.53 L279.50,197.57 L280.25,197.63 L281.00,197.54 L281.75,197.45 L282.50,197.39 L283.25,197.38 L284.00,197.45 L284.75,197.48 L285.50,197.49 L286.25,197.53 L287.00,197.52 L287.75,197.56 L288.50,197.58 L289.25,197.55 L290.00,197.48 L290.75,197.33 L291.50,197.31 L292.25,197.30 L293.00,197.29 L293.75,197.20 L294.50,197.19 L295.25,197.18 L296.00,197.15 L296.75,197.16 L297.50,197.16 L298.25,197.08 L299.00,197.10 L299.75,197.07 L300.50,197.08 L301.25,197.07 L302.00,197.05 L302.75,197.08" fill="none" stroke="#151515" stroke-width="0.92"/><path d="M44.00,198.42 L44.75,198.33 L45.50,198.24 L46.25,198.22 L47.00,198.19 L47.75,198.10 L48.50,198.01 L49.25,197.97 L50.00,197.83 L50.75,197.90 L51.50,197.81 L52.25,197.86 L53.00,197.75 L53.75,197.63 L54.50,197.52 L55.25,197.42 L56.00,197.28 L56.75,197.25 L57.50,197.22 L58.25,197.21 L59.00,197.11 L59.75,196.99 L60.50,196.89 L61.25,196.80 L62.00,196.76 L62.75,196.69 L63.50,196.50 L64.25,196.22 L65.00,196.07 L65.75,195.77 L66.50,195.75 L67.25,195.73 L68.00,195.61 L68.75,195.47 L69.50,195.33 L70.25,195.26 L71.00,195.05 L71.75,194.92 L72.50,194.83 L73.25,194.56 L74.00,194.29 L74.75,194.04 L75.50,193.71 L76.25,193.56 L77.00,193.37 L77.75,193.35 L78.50,193.09 L79.25,192.97 L80.00,192.87 L80.75,192.78 L81.50,192.58 L82.25,192.45 L83.00,192.13 L83.75,192.04 L84.50,191.79 L85.25,191.61 L86.00,191.34 L86.75,191.01 L87.50,190.52 L88.25,190.22 L89.00,189.94 L89.75,189.59 L90.50,189.15 L91.25,188.78 L92.00,188.38 L92.75,187.88 L93.50,187.44 L94.25,187.13 L95.00,186.80 L95.75,186.45 L96.50,185.90 L97.25,185.38 L98.00,184.91 L98.75,184.26 L99.50,183.71 L100.25,183.36 L101.00,182.78 L101.75,182.16 L102.50,181.37 L103.25,180.90 L104.00,180.29 L104.75,179.86 L105.50,179.57 L106.25,179.06 L107.00,178.16 L107.75,177.66 L108.50,177.09 L109.25,176.61 L110.00,175.99 L110.75,175.23 L111.50,174.26 L112.25,173.41 L113.00,172.32 L113.75,171.16 L114.50,169.96 L115.25,168.61 L116.00,167.26 L116.75,165.87 L117.50,164.45 L118.25,163.05 L119.00,161.14 L119.75,159.47 L120.50,158.12 L121.25,155.75 L122.00,153.42 L122.75,150.84 L123.50,148.08 L124.25,145.39 L125.00,142.48 L125.75,139.81 L126.50,137.23 L127.25,133.80 L128.00,131.24 L128.75,128.67 L129.50,127.22 L130.25,125.14 L131.00,124.26 L131.75,124.75 L132.50,125.50 L133.25,126.75 L134.00,128.79 L134.75,131.27 L135.50,134.15 L136.25,136.62 L137.00,140.06 L137.75,143.50 L138.50,146.20 L139.25,149.26 L140.00,151.94 L140.75,154.43 L141.50,156.58 L142.25,158.94 L143.00,160.74 L143.75,162.50 L144.50,164.18 L145.25,165.96 L146.00,167.45 L146.75,168.93 L147.50,170.18 L148.25,171.30 L149.00,172.36 L149.75,173.60 L150.50,174.71 L151.25,175.72 L152.00,176.69 L152.75,177.57 L153.50,178.35 L154.25,179.12 L155.00,180.12 L155.75,180.88 L156.50,181.40 L157.25,182.16 L158.00,182.74 L158.75,183.17 L159.50,183.63 L160.25,184.22 L161.00,184.76 L161.75,185.14 L162.50,185.47 L163.25,186.00 L164.00,186.22 L164.75,186.75 L165.50,187.16 L166.25,187.51 L167.00,187.71 L167.75,188.09 L168.50,188.35 L169.25,188.72 L170.00,188.91 L170.75,189.16 L171.50,189.36 L172.25,189.59 L173.00,189.91 L173.75,190.16 L174.50,190.29 L175.25,190.56 L176.00,190.82 L176.75,191.06 L177.50,191.31 L178.25,191.42 L179.00,191.60 L179.75,191.84 L180.50,192.11 L181.25,192.27 L182.00,192.51 L182.75,192.55 L183.50,192.63 L184.25,192.80 L185.00,192.94 L185.75,193.14 L186.50,193.24 L187.25,193.34 L188.00,193.55 L188.75,193.61 L189.50,193.74 L190.25,193.95 L191.00,194.08 L191.75,194.21 L192.50,194.29 L193.25,194.24 L194.00,194.30 L194.75,194.38 L195.50,194.47 L196.25,194.60 L197.00,194.61 L197.75,194.68 L198.50,194.82 L199.25,194.91 L200.00,195.06 L200.75,195.16 L201.50,195.17 L202.25,195.27 L203.00,195.27 L203.75,195.37 L204.50,195.48 L205.25,195.48 L206.00,195.50 L206.75,195.52 L207.50,195.56 L208.25,195.63 L209.00,195.69 L209.75,195.79 L210.50,195.80 L211.25,195.74 L212.00,195.77 L212.75,195.82 L213.50,195.83 L214.25,195.93 L215.00,196.00 L215.75,195.93 L216.50,195.88 L217.25,195.98 L218.00,196.13 L218.75,196.09 L219.50,196.08 L220.25,196.18 L221.00,196.12 L221.75,196.07 L222.50,196.22 L223.25,196.22 L224.00,196.17 L224.75,196.20 L225.50,196.24 L226.25,196.34 L227.00,196.27 L227.75,196.28 L228.50,196.24 L229.25,196.17 L230.00,196.23 L230.75,196.24 L231.50,196.20 L232.25,196.27 L233.00,196.23 L233.75,196.29 L234.50,196.37 L235.25,196.45 L236.00,196.42 L236.75,196.43 L237.50,196.42 L238.25,196.42 L239.00,196.35 L239.75,196.37 L240.50,196.35 L241.25,196.40 L242.00,196.42 L242.75,196.47 L243.50,196.50 L244.25,196.61 L245.00,196.62 L245.75,196.72 L246.50,196.79 L247.25,196.86 L248.00,196.82 L248.75,196.86 L249.50,196.91 L250.25,196.90 L251.00,196.86 L251.75,196.87 L252.50,196.87 L253.25,196.74 L254.00,196.69 L254.75,196.65 L255.50,196.59 L256.25,196.57 L257.00,196.59 L257.75,196.59 L258.50,196.61 L259.25,196.61 L260.00,196.66 L260.75,196.69 L261.50,196.75 L262.25,196.77 L263.00,196.78 L263.75,196.76 L264.50,196.77 L265.25,196.73 L266.00,196.71 L266.75,196.79 L267.50,196.87 L268.25,196.89 L269.00,196.92 L269.75,196.87 L270.50,196.96 L271.25,197.00 L272.00,197.07 L272.75,197.14 L273.50,197.12 L274.25,197.05 L275.00,197.03 L275.75,197.02 L276.50,197.13 L277.25,197.06 L278.00,197.04 L278.75,197.02 L279.50,196.98 L280.25,197.00 L281.00,197.09 L281.75,197.12 L282.50,197.21 L283.25,197.07 L284.00,197.13 L284.75,197.12 L285.50,197.12 L286.25,197.14 L287.00,197.10 L287.75,197.10 L288.50,197.06 L289.25,197.03 L290.00,197.22 L290.75,197.19 L291.50,197.24 L292.25,197.25 L293.00,197.21 L293.75,197.26 L294.50,197.22 L295.25,197.24 L296.00,197.31 L296.75,197.21 L297.50,197.30 L298.25,197.39 L299.00,197.40 L299.75,197.52 L300.50,197.52 L301.25,197.56 L302.00,197.61 L302.75,197.59" fill="none" stroke="#151515" stroke-width="0.92"/><path d="M44.00,198.93 L44.75,198.98 L45.50,198.92 L46.25,198.90 L47.00,198.86 L47.75,198.84 L48.50,198.74 L49.25,198.77 L50.00,198.80 L50.75,198.78 L51.50,198.73 L52.25,198.74 L53.00,198.68 L53.75,198.73 L54.50,198.73 L55.25,198.72 L56.00,198.68 L56.75,198.51 L57.50,198.48 L58.25,198.44 L59.00,198.42 L59.75,198.35 L60.50,198.25 L61.25,198.14 L62.00,198.04 L62.75,198.03 L63.50,198.03 L64.25,197.97 L65.00,197.86 L65.75,197.71 L66.50,197.65 L67.25,197.50 L68.00,197.47 L68.75,197.43 L69.50,197.23 L70.25,197.11 L71.00,196.98 L71.75,196.98 L72.50,196.90 L73.25,196.85 L74.00,196.90 L74.75,196.73 L75.50,196.59 L76.25,196.52 L77.00,196.44 L77.75,196.40 L78.50,196.11 L79.25,196.06 L80.00,196.11 L80.75,195.91 L81.50,195.89 L82.25,195.76 L83.00,195.64 L83.75,195.47 L84.50,195.33 L85.25,195.19 L86.00,195.05 L86.75,194.54 L87.50,194.33 L88.25,194.13 L89.00,193.86 L89.75,193.59 L90.50,193.38 L91.25,193.05 L92.00,193.00 L92.75,192.72 L93.50,192.53 L94.25,192.25 L95.00,191.99 L95.75,191.74 L96.50,191.43 L97.25,191.06 L98.00,190.94 L98.75,190.52 L99.50,190.09 L100.25,189.78 L101.00,189.26 L101.75,188.82 L102.50,188.53 L103.25,188.22 L104.00,187.72 L104.75,187.24 L105.50,186.66 L106.25,186.51 L107.00,186.05 L107.75,185.83 L108.50,185.28 L109.25,184.67 L110.00,184.27 L110.75,183.86 L111.50,183.19 L112.25,182.69 L113.00,181.89 L113.75,181.46 L114.50,180.96 L115.25,180.04 L116.00,179.43 L116.75,178.57 L117.50,177.97 L118.25,177.06 L119.00,176.35 L119.75,175.12 L120.50,173.89 L121.25,172.58 L122.00,171.75 L122.75,170.74 L123.50,169.53 L124.25,168.07 L125.00,167.04 L125.75,165.46 L126.50,164.15 L127.25,162.34 L128.00,161.17 L128.75,159.51 L129.50,157.39 L130.25,155.19 L131.00,152.56 L131.75,149.59 L132.50,146.83 L133.25,144.02 L134.00,141.27 L134.75,137.11 L135.50,134.36 L136.25,131.19 L137.00,128.88 L137.75,127.56 L138.50,127.55 L139.25,128.44 L140.00,129.88 L140.75,132.54 L141.50,135.41 L142.25,138.15 L143.00,141.18 L143.75,143.92 L144.50,146.48 L145.25,149.45 L146.00,152.75 L146.75,155.79 L147.50,158.51 L148.25,160.93 L149.00,162.72 L149.75,164.82 L150.50,167.29 L151.25,169.57 L152.00,171.59 L152.75,172.85 L153.50,174.14 L154.25,175.20 L155.00,176.14 L155.75,177.56 L156.50,178.71 L157.25,179.06 L158.00,179.69 L158.75,180.38 L159.50,181.37 L160.25,182.18 L161.00,183.07 L161.75,183.80 L162.50,184.21 L163.25,184.49 L164.00,185.15 L164.75,185.67 L165.50,186.06 L166.25,186.05 L167.00,186.44 L167.75,186.54 L168.50,186.88 L169.25,187.15 L170.00,187.59 L170.75,187.85 L171.50,188.02 L172.25,188.27 L173.00,188.78 L173.75,188.94 L174.50,189.34 L175.25,189.65 L176.00,190.03 L176.75,190.28 L177.50,190.51 L178.25,190.78 L179.00,191.11 L179.75,191.34 L180.50,191.61 L181.25,191.80 L182.00,192.09 L182.75,192.36 L183.50,192.71 L184.25,193.16 L185.00,193.48 L185.75,193.67 L186.50,193.95 L187.25,194.23 L188.00,194.53 L188.75,194.83 L189.50,195.21 L190.25,195.39 L191.00,195.58 L191.75,195.89 L192.50,196.24 L193.25,196.41 L194.00,196.73 L194.75,196.84 L195.50,196.97 L196.25,196.93 L197.00,197.16 L197.75,197.33 L198.50,197.47 L199.25,197.55 L200.00,197.75 L200.75,197.82 L201.50,197.96 L202.25,198.13 L203.00,198.35 L203.75,198.38 L204.50,198.48 L205.25,198.55 L206.00,198.61 L206.75,198.68 L207.50,198.76 L208.25,198.87 L209.00,198.89 L209.75,198.84 L210.50,198.96 L211.25,198.93 L212.00,198.98 L212.75,199.04 L213.50,199.07 L214.25,199.04 L215.00,199.02 L215.75,198.96 L216.50,199.08 L217.25,199.00 L218.00,199.02 L218.75,198.97 L219.50,199.00 L220.25,198.96 L221.00,198.99 L221.75,199.02 L222.50,199.11 L223.25,199.06 L224.00,199.08 L224.75,199.07 L225.50,199.12 L226.25,199.05 L227.00,199.03 L227.75,199.07 L228.50,199.02 L229.25,199.06 L230.00,199.07 L230.75,199.09 L231.50,199.07 L232.25,199.05 L233.00,199.10 L233.75,199.19 L234.50,199.20 L235.25,199.22 L236.00,199.17 L236.75,199.21 L237.50,199.21 L238.25,199.29 L239.00,199.31 L239.75,199.30 L240.50,199.19 L241.25,199.08 L242.00,199.10 L242.75,199.15 L243.50,199.10 L244.25,199.11 L245.00,199.05 L245.75,199.00 L246.50,198.98 L247.25,199.00 L248.00,199.01 L248.75,198.99 L249.50,198.93 L250.25,198.95 L251.00,198.91 L251.75,198.95 L252.50,198.97 L253.25,198.97 L254.00,199.05 L254.75,199.05 L255.50,199.04 L256.25,199.01 L257.00,198.94 L257.75,199.01 L258.50,198.96 L259.25,198.93 L260.00,198.85 L260.75,198.82 L261.50,198.80 L262.25,198.77 L263.00,198.71 L263.75,198.68 L264.50,198.58 L265.25,198.48 L266.00,198.47 L266.75,198.51 L267.50,198.46 L268.25,198.51 L269.00,198.50 L269.75,198.61 L270.50,198.65 L271.25,198.63 L272.00,198.66 L272.75,198.66 L273.50,198.57 L274.25,198.56 L275.00,198.51 L275.75,198.57 L276.50,198.51 L277.25,198.52 L278.00,198.46 L278.75,198.46 L279.50,198.47 L280.25,198.49 L281.00,198.42 L281.75,198.41 L282.50,198.31 L283.25,198.28 L284.00,198.25 L284.75,198.36 L285.50,198.36 L286.25,198.25 L287.00,198.20 L287.75,198.21 L288.50,198.21 L289.25,198.20 L290.00,198.13 L290.75,198.08 L291.50,198.01 L292.25,197.97 L293.00,198.01 L293.75,198.03 L294.50,198.02 L295.25,198.02 L296.00,197.99 L296.75,197.98 L297.50,198.02 L298.25,197.98 L299.00,197.94 L299.75,197.93 L300.50,197.93 L301.25,197.90 L302.00,197.81 L302.75,197.79" fill="none" stroke="#151515" stroke-width="0.92"/><path d="M44.00,198.98 L44.75,198.88 L45.50,198.94 L46.25,198.94 L47.00,198.89 L47.75,198.78 L48.50,198.86 L49.25,198.89 L50.00,198.89 L50.75,198.90 L51.50,198.91 L52.25,198.79 L53.00,198.75 L53.75,198.73 L54.50,198.72 L55.25,198.63 L56.00,198.55 L56.75,198.46 L57.50,198.37 L58.25,198.35 L59.00,198.35 L59.75,198.25 L60.50,198.25 L61.25,198.23 L62.00,198.19 L62.75,198.17 L63.50,198.12 L64.25,198.06 L65.00,197.96 L65.75,197.86 L66.50,197.80 L67.25,197.74 L68.00,197.67 L68.75,197.60 L69.50,197.57 L70.25,197.58 L71.00,197.53 L71.75,197.53 L72.50,197.46 L73.25,197.48 L74.00,197.49 L74.75,197.54 L75.50,197.53 L76.25,197.47 L77.00,197.41 L77.75,197.31 L78.50,197.16 L79.25,197.13 L80.00,197.00 L80.75,196.88 L81.50,196.70 L82.25,196.53 L83.00,196.35 L83.75,196.35 L84.50,196.24 L85.25,196.15 L86.00,196.03 L86.75,196.02 L87.50,195.89 L88.25,195.78 L89.00,195.72 L89.75,195.71 L90.50,195.54 L91.25,195.41 L92.00,195.43 L92.75,195.27 L93.50,195.06 L94.25,194.88 L95.00,194.84 L95.75,194.74 L96.50,194.51 L97.25,194.39 L98.00,194.16 L98.75,194.00 L99.50,193.97 L100.25,193.79 L101.00,193.60 L101.75,193.29 L102.50,193.08 L103.25,192.92 L104.00,192.64 L104.75,192.58 L105.50,192.43 L106.25,192.07 L107.00,191.82 L107.75,191.59 L108.50,191.42 L109.25,191.12 L110.00,190.84 L110.75,190.55 L111.50,190.14 L112.25,189.78 L113.00,189.51 L113.75,189.28 L114.50,188.98 L115.25,188.48 L116.00,188.22 L116.75,187.85 L117.50,187.50 L118.25,187.10 L119.00,186.62 L119.75,186.34 L120.50,185.75 L121.25,185.26 L122.00,184.92 L122.75,184.19 L123.50,183.71 L124.25,183.10 L125.00,182.55 L125.75,181.76 L126.50,180.94 L127.25,180.14 L128.00,179.06 L128.75,178.22 L129.50,177.21 L130.25,176.38 L131.00,175.11 L131.75,174.04 L132.50,172.86 L133.25,171.53 L134.00,170.36 L134.75,169.37 L135.50,167.75 L136.25,166.12 L137.00,163.71 L137.75,162.02 L138.50,159.95 L139.25,157.92 L140.00,155.85 L140.75,153.13 L141.50,150.59 L142.25,148.68 L143.00,148.02 L143.75,148.48 L144.50,148.07 L145.25,147.75 L146.00,147.78 L146.75,147.27 L147.50,147.93 L148.25,147.93 L149.00,148.18 L149.75,148.16 L150.50,147.83 L151.25,148.07 L152.00,148.44 L152.75,149.30 L153.50,150.46 L154.25,151.57 L155.00,153.61 L155.75,155.39 L156.50,157.63 L157.25,159.93 L158.00,162.39 L158.75,164.62 L159.50,166.43 L160.25,168.34 L161.00,170.14 L161.75,171.66 L162.50,173.27 L163.25,174.59 L164.00,175.90 L164.75,176.89 L165.50,178.21 L166.25,179.13 L167.00,180.34 L167.75,181.32 L168.50,182.14 L169.25,182.84 L170.00,183.29 L170.75,183.85 L171.50,184.26 L172.25,184.48 L173.00,185.04 L173.75,185.29 L174.50,185.52 L175.25,185.91 L176.00,186.19 L176.75,186.67 L177.50,186.93 L178.25,187.34 L179.00,187.66 L179.75,187.77 L180.50,187.90 L181.25,188.19 L182.00,188.34 L182.75,188.46 L183.50,188.62 L184.25,188.87 L185.00,188.94 L185.75,189.18 L186.50,189.35 L187.25,189.68 L188.00,189.73 L188.75,189.99 L189.50,190.17 L190.25,190.24 L191.00,190.42 L191.75,190.59 L192.50,190.78 L193.25,191.15 L194.00,191.25 L194.75,191.53 L195.50,191.69 L196.25,192.11 L197.00,192.42 L197.75,192.60 L198.50,192.92 L199.25,193.11 L200.00,193.32 L200.75,193.61 L201.50,193.76 L202.25,193.87 L203.00,193.97 L203.75,194.20 L204.50,194.36 L205.25,194.48 L206.00,194.62 L206.75,194.76 L207.50,194.90 L208.25,195.14 L209.00,195.30 L209.75,195.38 L210.50,195.46 L211.25,195.56 L212.00,195.75 L212.75,195.83 L213.50,195.91 L214.25,196.00 L215.00,196.07 L215.75,196.26 L216.50,196.42 L217.25,196.59 L218.00,196.71 L218.75,196.76 L219.50,196.90 L220.25,196.91 L221.00,197.07 L221.75,197.15 L222.50,197.16 L223.25,197.18 L224.00,197.11 L224.75,197.09 L225.50,197.14 L226.25,197.19 L227.00,197.26 L227.75,197.20 L228.50,197.20 L229.25,197.27 L230.00,197.24 L230.75,197.33 L231.50,197.39 L232.25,197.38 L233.00,197.34 L233.75,197.25 L234.50,197.28 L235.25,197.32 L236.00,197.29 L236.75,197.31 L237.50,197.33 L238.25,197.37 L239.00,197.43 L239.75,197.44 L240.50,197.48 L241.25,197.48 L242.00,197.49 L242.75,197.51 L243.50,197.67 L244.25,197.60 L245.00,197.60 L245.75,197.57 L246.50,197.62 L247.25,197.71 L248.00,197.73 L248.75,197.69 L249.50,197.71 L250.25,197.55 L251.00,197.69 L251.75,197.74 L252.50,197.74 L253.25,197.74 L254.00,197.78 L254.75,197.81 L255.50,197.82 L256.25,197.87 L257.00,197.97 L257.75,197.92 L258.50,197.93 L259.25,197.92 L260.00,197.91 L260.75,197.93 L261.50,197.85 L262.25,197.93 L263.00,197.91 L263.75,197.82 L264.50,197.78 L265.25,197.82 L266.00,197.87 L266.75,197.93 L267.50,197.90 L268.25,197.97 L269.00,197.92 L269.75,197.89 L270.50,198.02 L271.25,197.91 L272.00,197.91 L272.75,197.89 L273.50,197.87 L274.25,197.80 L275.00,197.81 L275.75,197.83 L276.50,197.77 L277.25,197.72 L278.00,197.88 L278.75,197.83 L279.50,197.87 L280.25,197.89 L281.00,197.92 L281.75,197.90 L282.50,197.94 L283.25,197.99 L284.00,198.01 L284.75,198.02 L285.50,198.01 L286.25,198.00 L287.00,197.94 L287.75,197.98 L288.50,197.98 L289.25,197.96 L290.00,198.10 L290.75,198.16 L291.50,198.16 L292.25,198.14 L293.00,198.20 L293.75,198.22 L294.50,198.16 L295.25,198.17 L296.00,198.16 L296.75,198.08 L297.50,198.03 L298.25,197.98 L299.00,198.03 L299.75,197.93 L300.50,197.97 L301.25,198.01 L302.00,198.03 L302.75,198.06" fill="none" stroke="#151515" stroke-width="0.92"/><path d="M44.00,199.54 L44.75,199.58 L45.50,199.58 L46.25,199.59 L47.00,199.58 L47.75,199.67 L48.50,199.65 L49.25,199.63 L50.00,199.61 L50.75,199.61 L51.50,199.57 L52.25,199.53 L53.00,199.48 L53.75,199.42 L54.50,199.26 L55.25,199.28 L56.00,199.24 L56.75,199.27 L57.50,199.22 L58.25,199.13 L59.00,199.17 L59.75,199.21 L60.50,199.26 L61.25,199.32 L62.00,199.23 L62.75,199.23 L63.50,199.15 L64.25,199.08 L65.00,199.16 L65.75,199.07 L66.50,199.05 L67.25,199.04 L68.00,198.99 L68.75,199.01 L69.50,198.96 L70.25,199.02 L71.00,199.00 L71.75,198.96 L72.50,199.03 L73.25,199.03 L74.00,198.99 L74.75,198.94 L75.50,198.91 L76.25,198.91 L77.00,198.85 L77.75,198.86 L78.50,198.81 L79.25,198.76 L80.00,198.74 L80.75,198.71 L81.50,198.75 L82.25,198.75 L83.00,198.76 L83.75,198.75 L84.50,198.68 L85.25,198.69 L86.00,198.62 L86.75,198.59 L87.50,198.51 L88.25,198.44 L89.00,198.34 L89.75,198.37 L90.50,198.32 L91.25,198.24 L92.00,198.25 L92.75,198.18 L93.50,198.02 L94.25,197.95 L95.00,197.90 L95.75,197.82 L96.50,197.60 L97.25,197.51 L98.00,197.39 L98.75,197.18 L99.50,197.06 L100.25,196.97 L101.00,196.84 L101.75,196.64 L102.50,196.47 L103.25,196.33 L104.00,196.17 L104.75,196.08 L105.50,195.89 L106.25,195.76 L107.00,195.55 L107.75,195.39 L108.50,195.24 L109.25,195.25 L110.00,195.09 L110.75,194.86 L111.50,194.64 L112.25,194.54 L113.00,194.23 L113.75,194.04 L114.50,193.89 L115.25,193.69 L116.00,193.27 L116.75,193.10 L117.50,192.92 L118.25,192.52 L119.00,192.10 L119.75,191.81 L120.50,191.40 L121.25,190.99 L122.00,190.73 L122.75,190.32 L123.50,189.79 L124.25,189.29 L125.00,189.21 L125.75,188.81 L126.50,188.36 L127.25,188.07 L128.00,187.66 L128.75,186.97 L129.50,186.58 L130.25,186.07 L131.00,185.56 L131.75,184.74 L132.50,184.25 L133.25,183.90 L134.00,183.30 L134.75,182.29 L135.50,181.61 L136.25,180.69 L137.00,179.86 L137.75,178.81 L138.50,177.90 L139.25,177.01 L140.00,175.79 L140.75,174.81 L141.50,174.10 L142.25,172.79 L143.00,172.00 L143.75,170.78 L144.50,169.47 L145.25,167.82 L146.00,166.25 L146.75,164.66 L147.50,162.85 L148.25,161.12 L149.00,159.22 L149.75,156.30 L150.50,154.45 L151.25,152.15 L152.00,150.17 L152.75,147.89 L153.50,145.07 L154.25,143.20 L155.00,141.07 L155.75,139.49 L156.50,138.07 L157.25,136.16 L158.00,135.18 L158.75,134.92 L159.50,134.57 L160.25,135.31 L161.00,135.39 L161.75,136.59 L162.50,138.33 L163.25,140.90 L164.00,143.75 L164.75,146.01 L165.50,148.42 L166.25,151.41 L167.00,153.90 L167.75,156.22 L168.50,158.38 L169.25,160.04 L170.00,161.96 L170.75,163.65 L171.50,165.88 L172.25,167.46 L173.00,168.74 L173.75,170.21 L174.50,171.10 L175.25,172.35 L176.00,173.92 L176.75,174.75 L177.50,175.64 L178.25,176.42 L179.00,177.24 L179.75,177.93 L180.50,178.67 L181.25,179.61 L182.00,180.23 L182.75,180.63 L183.50,181.49 L184.25,182.14 L185.00,182.81 L185.75,183.27 L186.50,183.72 L187.25,184.26 L188.00,184.73 L188.75,184.95 L189.50,185.32 L190.25,185.71 L191.00,186.04 L191.75,186.23 L192.50,186.61 L193.25,186.93 L194.00,187.07 L194.75,187.36 L195.50,187.94 L196.25,188.24 L197.00,188.42 L197.75,188.66 L198.50,189.01 L199.25,189.38 L200.00,189.76 L200.75,190.14 L201.50,190.50 L202.25,190.88 L203.00,191.11 L203.75,191.45 L204.50,191.77 L205.25,191.96 L206.00,192.30 L206.75,192.39 L207.50,192.68 L208.25,192.84 L209.00,192.96 L209.75,193.28 L210.50,193.46 L211.25,193.68 L212.00,194.08 L212.75,194.27 L213.50,194.59 L214.25,194.70 L215.00,195.00 L215.75,195.16 L216.50,195.38 L217.25,195.57 L218.00,195.71 L218.75,195.88 L219.50,195.97 L220.25,196.14 L221.00,196.39 L221.75,196.55 L222.50,196.76 L223.25,196.95 L224.00,197.15 L224.75,197.19 L225.50,197.15 L226.25,197.26 L227.00,197.31 L227.75,197.43 L228.50,197.60 L229.25,197.72 L230.00,197.74 L230.75,197.69 L231.50,197.87 L232.25,198.04 L233.00,198.10 L233.75,198.23 L234.50,198.29 L235.25,198.22 L236.00,198.19 L236.75,198.27 L237.50,198.40 L238.25,198.47 L239.00,198.44 L239.75,198.40 L240.50,198.39 L241.25,198.26 L242.00,198.34 L242.75,198.33 L243.50,198.37 L244.25,198.35 L245.00,198.33 L245.75,198.33 L246.50,198.35 L247.25,198.38 L248.00,198.54 L248.75,198.49 L249.50,198.50 L250.25,198.49 L251.00,198.45 L251.75,198.40 L252.50,198.49 L253.25,198.52 L254.00,198.47 L254.75,198.50 L255.50,198.49 L256.25,198.51 L257.00,198.55 L257.75,198.53 L258.50,198.60 L259.25,198.56 L260.00,198.56 L260.75,198.58 L261.50,198.47 L262.25,198.46 L263.00,198.43 L263.75,198.42 L264.50,198.49 L265.25,198.50 L266.00,198.59 L266.75,198.52 L267.50,198.56 L268.25,198.63 L269.00,198.73 L269.75,198.73 L270.50,198.68 L271.25,198.69 L272.00,198.70 L272.75,198.63 L273.50,198.74 L274.25,198.72 L275.00,198.71 L275.75,198.60 L276.50,198.61 L277.25,198.61 L278.00,198.56 L278.75,198.49 L279.50,198.43 L280.25,198.39 L281.00,198.39 L281.75,198.39 L282.50,198.42 L283.25,198.39 L284.00,198.38 L284.75,198.40 L285.50,198.50 L286.25,198.58 L287.00,198.57 L287.75,198.52 L288.50,198.47 L289.25,198.50 L290.00,198.53 L290.75,198.52 L291.50,198.54 L292.25,198.47 L293.00,198.41 L293.75,198.45 L294.50,198.53 L295.25,198.51 L296.00,198.43 L296.75,198.45 L297.50,198.49 L298.25,198.41 L299.00,198.40 L299.75,198.39 L300.50,198.36 L301.25,198.30 L302.00,198.33 L302.75,198.34" fill="none" stroke="#151515" stroke-width="0.92"/><path d="M44.00,199.64 L44.75,199.58 L45.50,199.53 L46.25,199.53 L47.00,199.52 L47.75,199.54 L48.50,199.43 L49.25,199.37 L50.00,199.31 L50.75,199.24 L51.50,199.25 L52.25,199.19 L53.00,199.07 L53.75,199.01 L54.50,199.03 L55.25,199.02 L56.00,198.97 L56.75,198.96 L57.50,198.99 L58.25,198.89 L59.00,198.88 L59.75,198.91 L60.50,198.83 L61.25,198.68 L62.00,198.66 L62.75,198.61 L63.50,198.56 L64.25,198.50 L65.00,198.41 L65.75,198.30 L66.50,198.11 L67.25,198.00 L68.00,197.93 L68.75,197.84 L69.50,197.73 L70.25,197.73 L71.00,197.53 L71.75,197.47 L72.50,197.43 L73.25,197.49 L74.00,197.40 L74.75,197.32 L75.50,197.32 L76.25,197.22 L77.00,197.01 L77.75,197.00 L78.50,196.94 L79.25,196.87 L80.00,196.77 L80.75,196.72 L81.50,196.53 L82.25,196.39 L83.00,196.35 L83.75,196.31 L84.50,196.24 L85.25,196.14 L86.00,196.00 L86.75,195.93 L87.50,195.93 L88.25,195.99 L89.00,195.86 L89.75,195.75 L90.50,195.63 L91.25,195.58 L92.00,195.48 L92.75,195.45 L93.50,195.29 L94.25,195.11 L95.00,195.04 L95.75,194.97 L96.50,194.92 L97.25,194.85 L98.00,194.70 L98.75,194.62 L99.50,194.44 L100.25,194.34 L101.00,194.16 L101.75,194.00 L102.50,193.79 L103.25,193.56 L104.00,193.47 L104.75,193.27 L105.50,193.12 L106.25,192.98 L107.00,192.78 L107.75,192.55 L108.50,192.35 L109.25,192.11 L110.00,191.90 L110.75,191.71 L111.50,191.61 L112.25,191.30 L113.00,191.17 L113.75,190.88 L114.50,190.69 L115.25,190.39 L116.00,190.24 L116.75,190.03 L117.50,189.65 L118.25,189.24 L119.00,189.03 L119.75,188.62 L120.50,188.28 L121.25,188.08 L122.00,187.76 L122.75,187.50 L123.50,187.19 L124.25,186.96 L125.00,186.60 L125.75,186.13 L126.50,185.69 L127.25,185.44 L128.00,184.93 L128.75,184.58 L129.50,184.02 L130.25,183.49 L131.00,182.85 L131.75,182.59 L132.50,182.29 L133.25,181.75 L134.00,181.20 L134.75,180.51 L135.50,179.95 L136.25,179.48 L137.00,178.77 L137.75,178.16 L138.50,177.05 L139.25,176.18 L140.00,175.61 L140.75,174.79 L141.50,174.42 L142.25,173.68 L143.00,172.88 L143.75,172.27 L144.50,171.38 L145.25,170.80 L146.00,169.88 L146.75,168.93 L147.50,167.87 L148.25,167.07 L149.00,165.88 L149.75,164.54 L150.50,163.38 L151.25,161.96 L152.00,160.36 L152.75,158.61 L153.50,156.63 L154.25,154.85 L155.00,152.34 L155.75,150.39 L156.50,148.17 L157.25,145.54 L158.00,143.04 L158.75,140.33 L159.50,136.76 L160.25,134.13 L161.00,130.45 L161.75,126.83 L162.50,122.70 L163.25,118.39 L164.00,114.37 L164.75,111.36 L165.50,108.23 L166.25,108.49 L167.00,109.23 L167.75,110.84 L168.50,112.90 L169.25,115.44 L170.00,118.36 L170.75,121.32 L171.50,124.29 L172.25,127.12 L173.00,130.35 L173.75,133.33 L174.50,136.61 L175.25,139.54 L176.00,142.92 L176.75,146.24 L177.50,149.27 L178.25,151.24 L179.00,154.04 L179.75,156.32 L180.50,158.31 L181.25,160.04 L182.00,161.75 L182.75,162.72 L183.50,163.87 L184.25,164.85 L185.00,166.52 L185.75,167.70 L186.50,168.90 L187.25,169.94 L188.00,171.32 L188.75,172.36 L189.50,173.58 L190.25,174.58 L191.00,175.40 L191.75,176.08 L192.50,176.67 L193.25,177.17 L194.00,177.66 L194.75,177.95 L195.50,178.49 L196.25,178.83 L197.00,179.27 L197.75,179.88 L198.50,180.21 L199.25,180.50 L200.00,181.03 L200.75,181.29 L201.50,181.61 L202.25,181.92 L203.00,182.23 L203.75,182.41 L204.50,182.55 L205.25,182.89 L206.00,183.37 L206.75,183.46 L207.50,183.69 L208.25,183.84 L209.00,183.86 L209.75,183.92 L210.50,184.16 L211.25,184.32 L212.00,184.38 L212.75,184.32 L213.50,184.43 L214.25,184.58 L215.00,184.76 L215.75,184.78 L216.50,185.17 L217.25,185.24 L218.00,185.20 L218.75,185.37 L219.50,185.75 L220.25,185.93 L221.00,186.26 L221.75,186.51 L222.50,186.85 L223.25,186.79 L224.00,186.99 L224.75,187.35 L225.50,187.54 L226.25,187.65 L227.00,187.98 L227.75,188.15 L228.50,188.36 L229.25,188.66 L230.00,189.08 L230.75,189.40 L231.50,189.81 L232.25,190.19 L233.00,190.47 L233.75,190.70 L234.50,190.95 L235.25,191.14 L236.00,191.36 L236.75,191.56 L237.50,191.83 L238.25,192.03 L239.00,192.18 L239.75,192.42 L240.50,192.58 L241.25,192.82 L242.00,193.05 L242.75,193.24 L243.50,193.35 L244.25,193.46 L245.00,193.57 L245.75,193.70 L246.50,193.78 L247.25,193.84 L248.00,193.92 L248.75,194.05 L249.50,194.15 L250.25,194.26 L251.00,194.31 L251.75,194.34 L252.50,194.48 L253.25,194.44 L254.00,194.49 L254.75,194.54 L255.50,194.62 L256.25,194.65 L257.00,194.70 L257.75,194.84 L258.50,194.91 L259.25,194.95 L260.00,195.07 L260.75,195.12 L261.50,195.11 L262.25,195.15 L263.00,195.13 L263.75,195.14 L264.50,195.09 L265.25,195.09 L266.00,195.00 L266.75,195.06 L267.50,195.14 L268.25,195.22 L269.00,195.14 L269.75,195.30 L270.50,195.30 L271.25,195.35 L272.00,195.35 L272.75,195.49 L273.50,195.54 L274.25,195.58 L275.00,195.55 L275.75,195.67 L276.50,195.58 L277.25,195.68 L278.00,195.62 L278.75,195.68 L279.50,195.62 L280.25,195.61 L281.00,195.53 L281.75,195.60 L282.50,195.55 L283.25,195.51 L284.00,195.50 L284.75,195.54 L285.50,195.58 L286.25,195.61 L287.00,195.70 L287.75,195.79 L288.50,195.81 L289.25,195.89 L290.00,196.03 L290.75,196.01 L291.50,196.04 L292.25,196.08 L293.00,196.04 L293.75,195.99 L294.50,196.02 L295.25,196.01 L296.00,196.01 L296.75,196.03 L297.50,196.12 L298.25,196.10 L299.00,196.02 L299.75,196.17 L300.50,196.17 L301.25,196.17 L302.00,196.21 L302.75,196.18" fill="none" stroke="#151515" stroke-width="0.92"/><path d="M44.00,199.89 L44.75,199.94 L45.50,199.97 L46.25,200.00 L47.00,200.00 L47.75,200.02 L48.50,200.06 L49.25,200.01 L50.00,200.02 L50.75,200.06 L51.50,199.98 L52.25,199.92 L53.00,199.90 L53.75,199.91 L54.50,199.97 L55.25,199.97 L56.00,199.98 L56.75,199.90 L57.50,199.79 L58.25,199.79 L59.00,199.78 L59.75,199.73 L60.50,199.64 L61.25,199.59 L62.00,199.50 L62.75,199.45 L63.50,199.55 L64.25,199.66 L65.00,199.71 L65.75,199.68 L66.50,199.65 L67.25,199.68 L68.00,199.63 L68.75,199.63 L69.50,199.69 L70.25,199.63 L71.00,199.55 L71.75,199.49 L72.50,199.46 L73.25,199.40 L74.00,199.44 L74.75,199.42 L75.50,199.40 L76.25,199.35 L77.00,199.26 L77.75,199.21 L78.50,199.15 L79.25,199.21 L80.00,199.35 L80.75,199.18 L81.50,199.12 L82.25,199.13 L83.00,199.09 L83.75,199.08 L84.50,199.19 L85.25,199.15 L86.00,199.12 L86.75,198.96 L87.50,199.03 L88.25,199.08 L89.00,199.07 L89.75,199.09 L90.50,199.04 L91.25,198.92 L92.00,199.00 L92.75,198.81 L93.50,198.74 L94.25,198.62 L95.00,198.56 L95.75,198.50 L96.50,198.51 L97.25,198.47 L98.00,198.32 L98.75,198.22 L99.50,198.26 L100.25,198.29 L101.00,198.26 L101.75,198.14 L102.50,197.91 L103.25,197.78 L104.00,197.68 L104.75,197.61 L105.50,197.48 L106.25,197.39 L107.00,197.35 L107.75,197.18 L108.50,197.13 L109.25,197.16 L110.00,197.01 L110.75,196.98 L111.50,196.97 L112.25,196.85 L113.00,196.63 L113.75,196.43 L114.50,196.32 L115.25,196.22 L116.00,196.14 L116.75,195.88 L117.50,195.69 L118.25,195.54 L119.00,195.35 L119.75,195.22 L120.50,195.11 L121.25,195.00 L122.00,194.69 L122.75,194.41 L123.50,194.25 L124.25,193.93 L125.00,193.56 L125.75,193.33 L126.50,193.11 L127.25,192.77 L128.00,192.43 L128.75,192.14 L129.50,191.79 L130.25,191.47 L131.00,191.02 L131.75,190.76 L132.50,190.36 L133.25,189.93 L134.00,189.45 L134.75,189.08 L135.50,188.74 L136.25,188.22 L137.00,187.82 L137.75,187.56 L138.50,187.13 L139.25,186.64 L140.00,186.16 L140.75,185.74 L141.50,185.14 L142.25,184.35 L143.00,184.08 L143.75,183.51 L144.50,183.10 L145.25,182.55 L146.00,182.02 L146.75,181.40 L147.50,180.70 L148.25,180.22 L149.00,179.94 L149.75,179.03 L150.50,178.34 L151.25,177.49 L152.00,176.67 L152.75,175.52 L153.50,174.79 L154.25,173.85 L155.00,172.75 L155.75,171.55 L156.50,170.32 L157.25,169.17 L158.00,167.66 L158.75,166.25 L159.50,165.38 L160.25,163.35 L161.00,161.69 L161.75,159.66 L162.50,157.39 L163.25,155.20 L164.00,152.88 L164.75,150.94 L165.50,148.41 L166.25,144.93 L167.00,142.12 L167.75,138.53 L168.50,135.50 L169.25,132.48 L170.00,128.68 L170.75,124.47 L171.50,118.94 L172.25,113.51 L173.00,107.94 L173.75,103.24 L174.50,99.04 L175.25,94.46 L176.00,92.78 L176.75,92.67 L177.50,91.72 L178.25,90.94 L179.00,91.82 L179.75,94.34 L180.50,97.05 L181.25,100.82 L182.00,104.60 L182.75,108.51 L183.50,112.07 L184.25,116.61 L185.00,122.34 L185.75,126.15 L186.50,130.36 L187.25,134.25 L188.00,137.66 L188.75,141.05 L189.50,144.50 L190.25,147.20 L191.00,149.93 L191.75,152.44 L192.50,154.57 L193.25,156.32 L194.00,158.07 L194.75,159.94 L195.50,161.44 L196.25,163.19 L197.00,164.98 L197.75,166.68 L198.50,167.77 L199.25,169.28 L200.00,170.31 L200.75,171.06 L201.50,171.80 L202.25,173.05 L203.00,173.60 L203.75,174.22 L204.50,174.80 L205.25,175.39 L206.00,175.74 L206.75,176.32 L207.50,176.97 L208.25,177.34 L209.00,177.79 L209.75,178.54 L210.50,178.98 L211.25,179.34 L212.00,179.64 L212.75,180.09 L213.50,180.54 L214.25,181.06 L215.00,181.38 L215.75,181.67 L216.50,181.79 L217.25,182.21 L218.00,182.47 L218.75,182.89 L219.50,183.51 L220.25,184.10 L221.00,184.34 L221.75,184.93 L222.50,185.38 L223.25,185.89 L224.00,186.51 L224.75,187.15 L225.50,187.74 L226.25,187.99 L227.00,188.39 L227.75,188.88 L228.50,189.35 L229.25,189.71 L230.00,190.16 L230.75,190.64 L231.50,190.89 L232.25,191.24 L233.00,191.63 L233.75,192.02 L234.50,192.51 L235.25,192.87 L236.00,193.37 L236.75,193.77 L237.50,194.03 L238.25,194.43 L239.00,194.77 L239.75,195.06 L240.50,195.27 L241.25,195.34 L242.00,195.44 L242.75,195.55 L243.50,195.61 L244.25,195.72 L245.00,195.81 L245.75,195.87 L246.50,196.01 L247.25,196.13 L248.00,196.40 L248.75,196.55 L249.50,196.64 L250.25,196.81 L251.00,196.88 L251.75,196.93 L252.50,197.02 L253.25,197.02 L254.00,197.05 L254.75,196.95 L255.50,197.06 L256.25,197.09 L257.00,197.05 L257.75,197.00 L258.50,197.04 L259.25,197.00 L260.00,197.10 L260.75,197.17 L261.50,197.18 L262.25,197.16 L263.00,197.08 L263.75,197.14 L264.50,197.23 L265.25,197.31 L266.00,197.32 L266.75,197.26 L267.50,197.15 L268.25,197.22 L269.00,197.22 L269.75,197.36 L270.50,197.34 L271.25,197.28 L272.00,197.18 L272.75,197.15 L273.50,197.13 L274.25,197.20 L275.00,197.18 L275.75,197.16 L276.50,197.15 L277.25,197.06 L278.00,197.08 L278.75,197.14 L279.50,197.16 L280.25,197.18 L281.00,197.12 L281.75,197.08 L282.50,197.20 L283.25,197.11 L284.00,197.10 L284.75,197.14 L285.50,197.16 L286.25,197.15 L287.00,197.13 L287.75,197.14 L288.50,197.23 L289.25,197.11 L290.00,197.11 L290.75,197.12 L291.50,196.98 L292.25,196.88 L293.00,196.89 L293.75,196.98 L294.50,196.94 L295.25,196.88 L296.00,196.85 L296.75,196.88 L297.50,196.86 L298.25,197.00 L299.00,196.99 L299.75,196.94 L300.50,196.83 L301.25,196.86 L302.00,196.84 L302.75,196.82" fill="none" stroke="#151515" stroke-width="0.92"/><path d="M44.00,200.17 L44.75,200.23 L45.50,200.22 L46.25,200.20 L47.00,200.14 L47.75,200.15 L48.50,200.15 L49.25,200.10 L50.00,200.14 L50.75,200.21 L51.50,200.18 L52.25,200.14 L53.00,200.10 L53.75,200.09 L54.50,199.99 L55.25,200.02 L56.00,199.97 L56.75,199.85 L57.50,199.74 L58.25,199.64 L59.00,199.67 L59.75,199.63 L60.50,199.68 L61.25,199.73 L62.00,199.69 L62.75,199.70 L63.50,199.71 L64.25,199.71 L65.00,199.75 L65.75,199.66 L66.50,199.67 L67.25,199.66 L68.00,199.57 L68.75,199.47 L69.50,199.46 L70.25,199.47 L71.00,199.37 L71.75,199.22 L72.50,199.21 L73.25,199.16 L74.00,199.06 L74.75,198.90 L75.50,198.92 L76.25,198.83 L77.00,198.73 L77.75,198.83 L78.50,198.92 L79.25,198.92 L80.00,198.86 L80.75,198.83 L81.50,198.84 L82.25,198.82 L83.00,198.81 L83.75,198.79 L84.50,198.67 L85.25,198.48 L86.00,198.37 L86.75,198.29 L87.50,198.19 L88.25,198.26 L89.00,198.17 L89.75,198.16 L90.50,198.11 L91.25,198.06 L92.00,198.12 L92.75,198.11 L93.50,198.06 L94.25,198.08 L95.00,197.97 L95.75,197.87 L96.50,197.77 L97.25,197.68 L98.00,197.56 L98.75,197.46 L99.50,197.30 L100.25,197.38 L101.00,197.21 L101.75,197.18 L102.50,197.28 L103.25,197.27 L104.00,197.32 L104.75,197.31 L105.50,197.37 L106.25,197.43 L107.00,197.27 L107.75,197.28 L108.50,197.24 L109.25,197.09 L110.00,196.98 L110.75,196.81 L111.50,196.72 L112.25,196.57 L113.00,196.37 L113.75,196.37 L114.50,196.30 L115.25,196.15 L116.00,196.04 L116.75,195.95 L117.50,195.86 L118.25,195.73 L119.00,195.52 L119.75,195.45 L120.50,195.24 L121.25,195.05 L122.00,194.93 L122.75,194.86 L123.50,194.66 L124.25,194.49 L125.00,194.37 L125.75,194.23 L126.50,194.04 L127.25,193.87 L128.00,193.84 L128.75,193.73 L129.50,193.41 L130.25,193.23 L131.00,192.96 L131.75,192.68 L132.50,192.52 L133.25,192.37 L134.00,192.16 L134.75,191.76 L135.50,191.46 L136.25,191.13 L137.00,190.94 L137.75,190.81 L138.50,190.55 L139.25,190.34 L140.00,189.80 L140.75,189.47 L141.50,189.12 L142.25,188.70 L143.00,188.47 L143.75,188.14 L144.50,187.77 L145.25,187.29 L146.00,186.63 L146.75,186.16 L147.50,185.77 L148.25,185.27 L149.00,184.79 L149.75,184.15 L150.50,183.53 L151.25,182.76 L152.00,182.22 L152.75,181.71 L153.50,181.23 L154.25,180.50 L155.00,179.78 L155.75,179.24 L156.50,178.49 L157.25,178.08 L158.00,177.48 L158.75,176.98 L159.50,176.32 L160.25,175.60 L161.00,174.69 L161.75,174.05 L162.50,172.85 L163.25,172.39 L164.00,171.16 L164.75,169.93 L165.50,168.69 L166.25,167.91 L167.00,166.85 L167.75,165.94 L168.50,164.39 L169.25,163.10 L170.00,161.44 L170.75,159.44 L171.50,158.19 L172.25,156.23 L173.00,153.69 L173.75,151.64 L174.50,149.37 L175.25,147.29 L176.00,145.45 L176.75,142.56 L177.50,140.29 L178.25,136.33 L179.00,133.24 L179.75,130.31 L180.50,125.94 L181.25,120.95 L182.00,116.50 L182.75,110.22 L183.50,105.29 L184.25,100.70 L185.00,99.28 L185.75,100.56 L186.50,100.57 L187.25,102.47 L188.00,105.59 L188.75,109.19 L189.50,113.64 L190.25,118.36 L191.00,122.29 L191.75,125.73 L192.50,128.17 L193.25,132.05 L194.00,135.91 L194.75,138.96 L195.50,141.45 L196.25,144.57 L197.00,147.28 L197.75,150.08 L198.50,152.93 L199.25,155.63 L200.00,157.71 L200.75,159.51 L201.50,161.31 L202.25,163.09 L203.00,164.50 L203.75,165.51 L204.50,166.42 L205.25,167.20 L206.00,167.84 L206.75,168.81 L207.50,169.77 L208.25,170.34 L209.00,171.07 L209.75,171.64 L210.50,172.39 L211.25,172.97 L212.00,173.67 L212.75,174.52 L213.50,174.96 L214.25,175.44 L215.00,175.98 L215.75,176.46 L216.50,176.89 L217.25,177.25 L218.00,177.70 L218.75,178.10 L219.50,178.22 L220.25,178.74 L221.00,179.11 L221.75,179.65 L222.50,179.92 L223.25,180.31 L224.00,180.63 L224.75,181.10 L225.50,181.52 L226.25,182.17 L227.00,182.49 L227.75,182.94 L228.50,183.28 L229.25,183.77 L230.00,184.14 L230.75,184.66 L231.50,185.17 L232.25,185.67 L233.00,186.04 L233.75,186.46 L234.50,186.73 L235.25,187.21 L236.00,187.57 L236.75,187.97 L237.50,188.50 L238.25,188.81 L239.00,189.09 L239.75,189.44 L240.50,189.89 L241.25,190.37 L242.00,190.81 L242.75,191.30 L243.50,191.78 L244.25,191.94 L245.00,192.36 L245.75,192.68 L246.50,193.05 L247.25,193.37 L248.00,193.67 L248.75,193.85 L249.50,194.11 L250.25,194.29 L251.00,194.63 L251.75,194.85 L252.50,195.06 L253.25,195.23 L254.00,195.39 L254.75,195.62 L255.50,195.78 L256.25,195.85 L257.00,196.01 L257.75,196.07 L258.50,196.20 L259.25,196.27 L260.00,196.32 L260.75,196.34 L261.50,196.36 L262.25,196.43 L263.00,196.49 L263.75,196.48 L264.50,196.53 L265.25,196.50 L266.00,196.59 L266.75,196.61 L267.50,196.61 L268.25,196.65 L269.00,196.66 L269.75,196.68 L270.50,196.76 L271.25,196.86 L272.00,196.82 L272.75,196.89 L273.50,196.94 L274.25,197.03 L275.00,196.98 L275.75,197.04 L276.50,197.07 L277.25,197.07 L278.00,197.01 L278.75,197.12 L279.50,197.03 L280.25,197.04 L281.00,197.00 L281.75,197.08 L282.50,197.08 L283.25,197.11 L284.00,197.18 L284.75,197.20 L285.50,197.17 L286.25,197.15 L287.00,197.19 L287.75,197.22 L288.50,197.16 L289.25,197.18 L290.00,197.16 L290.75,197.13 L291.50,197.18 L292.25,197.24 L293.00,197.26 L293.75,197.25 L294.50,197.27 L295.25,197.37 L296.00,197.37 L296.75,197.33 L297.50,197.38 L298.25,197.40 L299.00,197.32 L299.75,197.31 L300.50,197.32 L301.25,197.32 L302.00,197.26 L302.75,197.26" fill="none" stroke="#151515" stroke-width="0.92"/><path d="M44.00,197.43 L44.75,197.45 L45.50,197.44 L46.25,197.39 L47.00,197.38 L47.75,197.45 L48.50,197.43 L49.25,197.44 L50.00,197.43 L50.75,197.44 L51.50,197.41 L52.25,197.35 L53.00,197.49 L53.75,197.55 L54.50,197.59 L55.25,197.55 L56.00,197.47 L56.75,197.44 L57.50,197.44 L58.25,197.42 L59.00,197.58 L59.75,197.50 L60.50,197.58 L61.25,197.52 L62.00,197.58 L62.75,197.69 L63.50,197.69 L64.25,197.71 L65.00,197.71 L65.75,197.62 L66.50,197.59 L67.25,197.37 L68.00,197.39 L68.75,197.33 L69.50,197.35 L70.25,197.31 L71.00,197.25 L71.75,197.29 L72.50,197.25 L73.25,197.20 L74.00,197.24 L74.75,197.22 L75.50,197.26 L76.25,197.18 L77.00,197.29 L77.75,197.35 L78.50,197.34 L79.25,197.35 L80.00,197.34 L80.75,197.33 L81.50,197.31 L82.25,197.29 L83.00,197.39 L83.75,197.34 L84.50,197.30 L85.25,197.33 L86.00,197.35 L86.75,197.40 L87.50,197.50 L88.25,197.54 L89.00,197.62 L89.75,197.52 L90.50,197.56 L91.25,197.63 L92.00,197.59 L92.75,197.60 L93.50,197.59 L94.25,197.56 L95.00,197.45 L95.75,197.35 L96.50,197.39 L97.25,197.34 L98.00,197.28 L98.75,197.27 L99.50,197.18 L100.25,197.23 L101.00,197.26 L101.75,197.32 L102.50,197.30 L103.25,197.36 L104.00,197.39 L104.75,197.42 L105.50,197.42 L106.25,197.48 L107.00,197.48 L107.75,197.48 L108.50,197.47 L109.25,197.59 L110.00,197.50 L110.75,197.47 L111.50,197.34 L112.25,197.32 L113.00,197.35 L113.75,197.33 L114.50,197.28 L115.25,197.33 L116.00,197.23 L116.75,197.21 L117.50,197.25 L118.25,197.33 L119.00,197.29 L119.75,197.23 L120.50,197.23 L121.25,197.24 L122.00,197.23 L122.75,197.28 L123.50,197.25 L124.25,197.17 L125.00,197.17 L125.75,197.27 L126.50,197.29 L127.25,197.26 L128.00,197.13 L128.75,197.09 L129.50,196.99 L130.25,196.96 L131.00,196.91 L131.75,196.86 L132.50,196.86 L133.25,196.75 L134.00,196.67 L134.75,196.72 L135.50,196.67 L136.25,196.67 L137.00,196.71 L137.75,196.76 L138.50,196.69 L139.25,196.53 L140.00,196.53 L140.75,196.48 L141.50,196.38 L142.25,196.32 L143.00,196.26 L143.75,196.14 L144.50,195.97 L145.25,195.90 L146.00,195.80 L146.75,195.77 L147.50,195.78 L148.25,195.68 L149.00,195.65 L149.75,195.52 L150.50,195.49 L151.25,195.47 L152.00,195.43 L152.75,195.44 L153.50,195.43 L154.25,195.21 L155.00,195.18 L155.75,195.16 L156.50,195.13 L157.25,195.09 L158.00,195.04 L158.75,195.07 L159.50,194.92 L160.25,194.66 L161.00,194.67 L161.75,194.54 L162.50,194.31 L163.25,194.21 L164.00,193.97 L164.75,193.89 L165.50,193.64 L166.25,193.53 L167.00,193.38 L167.75,193.16 L168.50,192.98 L169.25,192.80 L170.00,192.43 L170.75,192.15 L171.50,191.61 L172.25,191.03 L173.00,190.42 L173.75,189.89 L174.50,189.21 L175.25,188.29 L176.00,187.32 L176.75,186.31 L177.50,185.04 L178.25,183.71 L179.00,182.42 L179.75,181.02 L180.50,179.51 L181.25,177.69 L182.00,176.17 L182.75,174.26 L183.50,172.50 L184.25,170.85 L185.00,169.17 L185.75,167.41 L186.50,165.61 L187.25,163.78 L188.00,162.63 L188.75,161.38 L189.50,160.40 L190.25,158.93 L191.00,158.21 L191.75,157.95 L192.50,157.82 L193.25,157.85 L194.00,157.96 L194.75,158.38 L195.50,158.84 L196.25,159.79 L197.00,161.38 L197.75,162.88 L198.50,164.23 L199.25,165.82 L200.00,167.38 L200.75,169.48 L201.50,170.88 L202.25,172.46 L203.00,173.96 L203.75,175.21 L204.50,176.42 L205.25,177.90 L206.00,179.00 L206.75,180.08 L207.50,180.94 L208.25,182.03 L209.00,182.83 L209.75,183.52 L210.50,184.29 L211.25,184.90 L212.00,185.28 L212.75,185.77 L213.50,186.21 L214.25,186.45 L215.00,186.85 L215.75,187.25 L216.50,187.51 L217.25,187.79 L218.00,188.09 L218.75,188.33 L219.50,188.70 L220.25,189.12 L221.00,189.65 L221.75,189.98 L222.50,190.28 L223.25,190.66 L224.00,191.04 L224.75,191.42 L225.50,191.76 L226.25,191.97 L227.00,192.19 L227.75,192.49 L228.50,192.72 L229.25,193.14 L230.00,193.43 L230.75,193.69 L231.50,193.91 L232.25,194.07 L233.00,194.23 L233.75,194.40 L234.50,194.47 L235.25,194.60 L236.00,194.66 L236.75,194.81 L237.50,194.81 L238.25,194.94 L239.00,195.15 L239.75,195.30 L240.50,195.38 L241.25,195.44 L242.00,195.57 L242.75,195.62 L243.50,195.70 L244.25,195.90 L245.00,195.91 L245.75,195.96 L246.50,195.97 L247.25,196.04 L248.00,196.15 L248.75,196.14 L249.50,196.19 L250.25,196.24 L251.00,196.24 L251.75,196.23 L252.50,196.26 L253.25,196.39 L254.00,196.46 L254.75,196.42 L255.50,196.36 L256.25,196.41 L257.00,196.42 L257.75,196.43 L258.50,196.54 L259.25,196.52 L260.00,196.47 L260.75,196.44 L261.50,196.40 L262.25,196.51 L263.00,196.44 L263.75,196.40 L264.50,196.42 L265.25,196.40 L266.00,196.36 L266.75,196.34 L267.50,196.35 L268.25,196.48 L269.00,196.44 L269.75,196.46 L270.50,196.41 L271.25,196.33 L272.00,196.27 L272.75,196.33 L273.50,196.35 L274.25,196.38 L275.00,196.33 L275.75,196.35 L276.50,196.34 L277.25,196.39 L278.00,196.43 L278.75,196.48 L279.50,196.46 L280.25,196.40 L281.00,196.41 L281.75,196.40 L282.50,196.39 L283.25,196.39 L284.00,196.41 L284.75,196.42 L285.50,196.40 L286.25,196.36 L287.00,196.35 L287.75,196.37 L288.50,196.48 L289.25,196.48 L290.00,196.52 L290.75,196.55 L291.50,196.61 L292.25,196.58 L293.00,196.65 L293.75,196.73 L294.50,196.64 L295.25,196.44 L296.00,196.39 L296.75,196.31 L297.50,196.31 L298.25,196.21 L299.00,196.22 L299.75,196.17 L300.50,196.13 L301.25,196.14 L302.00,196.23 L302.75,196.28" fill="none" stroke="#151515" stroke-width="0.92"/><path d="M44.00,197.94 L44.75,197.86 L45.50,197.87 L46.25,197.84 L47.00,197.90 L47.75,197.88 L48.50,197.83 L49.25,197.88 L50.00,197.77 L50.75,197.78 L51.50,197.90 L52.25,197.93 L53.00,197.90 L53.75,197.83 L54.50,197.82 L55.25,197.90 L56.00,197.85 L56.75,197.87 L57.50,197.89 L58.25,197.78 L59.00,197.73 L59.75,197.74 L60.50,197.70 L61.25,197.64 L62.00,197.62 L62.75,197.57 L63.50,197.55 L64.25,197.55 L65.00,197.57 L65.75,197.45 L66.50,197.41 L67.25,197.53 L68.00,197.61 L68.75,197.62 L69.50,197.62 L70.25,197.69 L71.00,197.66 L71.75,197.68 L72.50,197.75 L73.25,197.79 L74.00,197.70 L74.75,197.69 L75.50,197.59 L76.25,197.63 L77.00,197.54 L77.75,197.57 L78.50,197.51 L79.25,197.53 L80.00,197.44 L80.75,197.42 L81.50,197.42 L82.25,197.48 L83.00,197.36 L83.75,197.36 L84.50,197.33 L85.25,197.35 L86.00,197.36 L86.75,197.35 L87.50,197.29 L88.25,197.34 L89.00,197.26 L89.75,197.29 L90.50,197.31 L91.25,197.23 L92.00,197.21 L92.75,197.16 L93.50,197.20 L94.25,197.23 L95.00,197.13 L95.75,197.12 L96.50,197.14 L97.25,197.16 L98.00,197.20 L98.75,197.18 L99.50,197.14 L100.25,197.23 L101.00,197.21 L101.75,197.16 L102.50,197.12 L103.25,197.14 L104.00,197.05 L104.75,197.03 L105.50,197.06 L106.25,197.01 L107.00,196.92 L107.75,196.89 L108.50,197.00 L109.25,197.06 L110.00,197.07 L110.75,197.11 L111.50,197.13 L112.25,197.05 L113.00,197.13 L113.75,197.12 L114.50,197.12 L115.25,197.02 L116.00,196.90 L116.75,196.86 L117.50,196.78 L118.25,196.63 L119.00,196.60 L119.75,196.56 L120.50,196.58 L121.25,196.51 L122.00,196.54 L122.75,196.58 L123.50,196.62 L124.25,196.68 L125.00,196.72 L125.75,196.79 L126.50,196.77 L127.25,196.63 L128.00,196.62 L128.75,196.62 L129.50,196.51 L130.25,196.50 L131.00,196.50 L131.75,196.47 L132.50,196.44 L133.25,196.52 L134.00,196.55 L134.75,196.50 L135.50,196.48 L136.25,196.49 L137.00,196.35 L137.75,196.24 L138.50,196.29 L139.25,196.24 L140.00,196.04 L140.75,195.94 L141.50,195.89 L142.25,195.82 L143.00,195.83 L143.75,195.84 L144.50,195.81 L145.25,195.73 L146.00,195.69 L146.75,195.80 L147.50,195.91 L148.25,195.84 L149.00,195.80 L149.75,195.75 L150.50,195.77 L151.25,195.77 L152.00,195.60 L152.75,195.61 L153.50,195.57 L154.25,195.46 L155.00,195.51 L155.75,195.46 L156.50,195.46 L157.25,195.37 L158.00,195.36 L158.75,195.36 L159.50,195.23 L160.25,195.01 L161.00,194.98 L161.75,194.86 L162.50,194.79 L163.25,194.65 L164.00,194.46 L164.75,194.32 L165.50,194.28 L166.25,194.27 L167.00,194.22 L167.75,194.03 L168.50,193.99 L169.25,193.87 L170.00,193.86 L170.75,193.87 L171.50,193.74 L172.25,193.54 L173.00,193.35 L173.75,193.32 L174.50,193.25 L175.25,193.16 L176.00,193.02 L176.75,192.67 L177.50,192.41 L178.25,192.27 L179.00,192.09 L179.75,191.89 L180.50,191.56 L181.25,191.29 L182.00,190.91 L182.75,190.70 L183.50,190.46 L184.25,190.08 L185.00,189.85 L185.75,189.68 L186.50,189.26 L187.25,188.67 L188.00,188.10 L188.75,187.44 L189.50,186.55 L190.25,185.70 L191.00,184.90 L191.75,183.72 L192.50,182.28 L193.25,180.86 L194.00,179.61 L194.75,178.19 L195.50,176.97 L196.25,175.67 L197.00,174.72 L197.75,173.83 L198.50,173.81 L199.25,173.89 L200.00,174.84 L200.75,175.78 L201.50,177.01 L202.25,178.16 L203.00,179.58 L203.75,180.87 L204.50,182.08 L205.25,182.83 L206.00,183.92 L206.75,184.73 L207.50,185.52 L208.25,186.04 L209.00,186.65 L209.75,187.03 L210.50,187.44 L211.25,187.87 L212.00,188.11 L212.75,188.19 L213.50,188.24 L214.25,188.40 L215.00,188.56 L215.75,188.77 L216.50,189.02 L217.25,189.06 L218.00,189.08 L218.75,189.33 L219.50,189.63 L220.25,189.74 L221.00,189.97 L221.75,190.21 L222.50,190.28 L223.25,190.53 L224.00,190.72 L224.75,190.89 L225.50,190.96 L226.25,191.17 L227.00,191.45 L227.75,191.59 L228.50,191.83 L229.25,191.88 L230.00,191.99 L230.75,192.24 L231.50,192.47 L232.25,192.70 L233.00,192.73 L233.75,192.92 L234.50,193.02 L235.25,193.14 L236.00,193.50 L236.75,193.63 L237.50,193.87 L238.25,193.97 L239.00,194.20 L239.75,194.38 L240.50,194.42 L241.25,194.65 L242.00,194.84 L242.75,194.92 L243.50,195.10 L244.25,195.12 L245.00,195.30 L245.75,195.41 L246.50,195.59 L247.25,195.72 L248.00,195.84 L248.75,195.81 L249.50,195.93 L250.25,195.97 L251.00,196.12 L251.75,196.13 L252.50,196.12 L253.25,196.09 L254.00,196.15 L254.75,196.14 L255.50,196.19 L256.25,196.17 L257.00,196.19 L257.75,196.17 L258.50,196.25 L259.25,196.31 L260.00,196.41 L260.75,196.53 L261.50,196.49 L262.25,196.64 L263.00,196.79 L263.75,196.86 L264.50,196.83 L265.25,196.84 L266.00,196.90 L266.75,196.91 L267.50,196.87 L268.25,197.06 L269.00,197.04 L269.75,196.96 L270.50,196.91 L271.25,197.06 L272.00,197.22 L272.75,197.28 L273.50,197.29 L274.25,197.31 L275.00,197.24 L275.75,197.24 L276.50,197.28 L277.25,197.40 L278.00,197.35 L278.75,197.26 L279.50,197.19 L280.25,197.17 L281.00,197.23 L281.75,197.35 L282.50,197.44 L283.25,197.36 L284.00,197.35 L284.75,197.37 L285.50,197.40 L286.25,197.41 L287.00,197.34 L287.75,197.32 L288.50,197.25 L289.25,197.22 L290.00,197.31 L290.75,197.26 L291.50,197.33 L292.25,197.29 L293.00,197.28 L293.75,197.41 L294.50,197.40 L295.25,197.42 L296.00,197.47 L296.75,197.47 L297.50,197.54 L298.25,197.53 L299.00,197.56 L299.75,197.65 L300.50,197.69 L301.25,197.70 L302.00,197.71 L302.75,197.65" fill="none" stroke="#151515" stroke-width="0.92"/><path d="M44.00,182.30 L45.10,182.15 L46.69,181.93 L48.43,181.70 L50.00,181.50 L51.37,181.35 L52.69,181.23 L53.91,181.11 L55.00,181.00 L55.86,180.93 L56.53,180.88 L57.19,180.80 L58.00,180.60 L58.95,180.27 L59.97,179.85 L61.13,179.35 L62.50,178.80 L64.22,178.16 L66.22,177.43 L68.23,176.68 L70.00,176.00 L71.43,175.42 L72.66,174.90 L73.81,174.38 L75.00,173.80 L76.25,173.17 L77.50,172.51 L78.75,171.80 L80.00,171.00 L81.25,170.10 L82.50,169.11 L83.75,168.06 L85.00,167.00 L86.25,165.95 L87.50,164.89 L88.75,163.76 L90.00,162.50 L91.29,161.11 L92.59,159.61 L93.86,158.00 L95.00,156.30 L95.98,154.39 L96.84,152.31 L97.66,150.27 L98.50,148.50 L99.39,147.04 L100.28,145.78 L101.16,144.71 L102.00,143.80 L102.80,143.19 L103.56,142.83 L104.30,142.49 L105.00,141.90 L105.66,140.99 L106.28,139.89 L106.89,138.70 L107.50,137.50 L108.14,136.26 L108.78,134.96 L109.41,133.67 L110.00,132.50 L110.51,131.44 L110.97,130.46 L111.44,129.57 L112.00,128.80 L112.68,128.18 L113.44,127.70 L114.23,127.29 L115.00,126.90 L115.75,126.58 L116.50,126.33 L117.25,126.04 L118.00,125.60 L118.77,124.92 L119.56,124.09 L120.32,123.23 L121.00,122.50 L121.57,122.00 L122.06,121.62 L122.52,121.22 L123.00,120.60 L123.50,119.68 L124.00,118.57 L124.50,117.40 L125.00,116.30 L125.51,115.36 L126.03,114.49 L126.54,113.57 L127.00,112.50 L127.41,111.12 L127.78,109.54 L128.14,108.01 L128.50,106.80 L128.85,106.00 L129.19,105.47 L129.55,105.11 L130.00,104.80 L130.55,104.55 L131.19,104.41 L131.85,104.33 L132.50,104.30 L133.12,104.22 L133.75,104.14 L134.38,104.22 L135.00,104.60 L135.62,105.37 L136.25,106.42 L136.88,107.67 L137.50,109.00 L138.12,110.46 L138.75,112.07 L139.38,113.72 L140.00,115.30 L140.62,116.77 L141.25,118.20 L141.88,119.60 L142.50,121.00 L143.14,122.42 L143.78,123.85 L144.41,125.23 L145.00,126.50 L145.54,127.72 L146.03,128.90 L146.51,129.90 L147.00,130.60 L147.48,130.91 L147.94,130.91 L148.43,130.74 L149.00,130.50 L149.70,130.20 L150.50,129.78 L151.30,129.30 L152.00,128.80 L152.57,128.31 L153.06,127.79 L153.52,127.23 L154.00,126.60 L154.49,125.97 L154.97,125.32 L155.46,124.54 L156.00,123.50 L156.59,122.13 L157.22,120.49 L157.86,118.74 L158.50,117.00 L159.15,115.23 L159.81,113.38 L160.45,111.59 L161.00,110.00 L161.42,108.89 L161.75,108.09 L162.08,107.13 L162.50,105.50 L163.04,102.76 L163.66,99.28 L164.32,95.79 L165.00,93.00 L165.71,91.16 L166.47,89.87 L167.24,88.89 L168.00,88.00 L168.73,87.03 L169.44,86.15 L170.18,85.59 L171.00,85.60 L171.95,86.58 L173.00,88.29 L174.05,90.01 L175.00,91.00 L175.82,90.91 L176.56,90.17 L177.27,89.27 L178.00,88.70 L178.73,88.59 L179.44,88.68 L180.18,88.86 L181.00,89.00 L181.96,89.00 L183.03,88.95 L184.08,89.02 L185.00,89.40 L185.73,90.18 L186.34,91.26 L186.91,92.48 L187.50,93.70 L188.11,94.87 L188.72,96.08 L189.34,97.34 L190.00,98.70 L190.74,100.26 L191.53,101.98 L192.31,103.63 L193.00,105.00 L193.50,105.82 L193.88,106.27 L194.31,106.84 L195.00,108.00 L196.09,110.05 L197.44,112.67 L198.82,115.46 L200.00,118.00 L200.91,120.19 L201.69,122.24 L202.37,124.22 L203.00,126.20 L203.56,128.11 L204.03,129.94 L204.49,131.86 L205.00,134.00 L205.59,136.56 L206.22,139.41 L206.86,142.23 L207.50,144.70 L208.11,146.71 L208.72,148.43 L209.34,149.99 L210.00,151.50 L210.74,153.03 L211.53,154.49 L212.31,155.81 L213.00,156.90 L213.55,157.68 L214.00,158.23 L214.45,158.63 L215.00,159.00 L215.68,159.32 L216.44,159.56 L217.23,159.76 L218.00,160.00 L218.73,160.24 L219.44,160.46 L220.18,160.75 L221.00,161.20 L221.91,161.84 L222.88,162.62 L223.91,163.49 L225.00,164.40 L226.23,165.40 L227.56,166.49 L228.87,167.57 L230.00,168.50 L230.89,169.27 L231.62,169.95 L232.30,170.52 L233.00,171.00 L233.73,171.35 L234.44,171.59 L235.18,171.75 L236.00,171.90 L236.91,172.02 L237.88,172.11 L238.91,172.16 L240.00,172.20 L241.18,172.19 L242.44,172.14 L243.73,172.12 L245.00,172.20 L246.25,172.43 L247.50,172.76 L248.75,173.13 L250.00,173.50 L251.25,173.86 L252.50,174.24 L253.75,174.63 L255.00,175.00 L256.25,175.36 L257.50,175.73 L258.75,176.07 L260.00,176.40 L261.25,176.70 L262.50,176.99 L263.75,177.25 L265.00,177.50 L266.25,177.73 L267.50,177.94 L268.75,178.13 L270.00,178.30 L271.25,178.44 L272.50,178.54 L273.75,178.65 L275.00,178.80 L276.25,179.00 L277.50,179.23 L278.75,179.47 L280.00,179.70 L281.25,179.93 L282.50,180.16 L283.75,180.38 L285.00,180.60 L286.30,180.82 L287.62,181.04 L288.89,181.24 L290.00,181.40 L290.87,181.51 L291.56,181.58 L292.23,181.61 L293.00,181.60 L293.88,181.55 L294.81,181.45 L295.84,181.33 L297.00,181.20 L298.50,181.05 L300.25,180.87 L301.88,180.71 L303.00,180.60" fill="none" stroke="#40599d" stroke-width="2.7" stroke-linejoin="round"/><rect x="44" y="11.2" width="259.2" height="192.6" fill="none" stroke="#111" stroke-width="1.8"/><path d="M44,203.50h4 M303.2,203.50h-4 M44,184.25h2 M303.2,184.25h-2 M44,165.00h4 M303.2,165.00h-4 M44,145.75h2 M303.2,145.75h-2 M44,126.50h4 M303.2,126.50h-4 M44,107.25h2 M303.2,107.25h-2 M44,88.00h4 M303.2,88.00h-4 M44,68.75h2 M303.2,68.75h-2 M44,49.50h4 M303.2,49.50h-4 M44,30.25h2 M303.2,30.25h-2 M44,11.00h4 M303.2,11.00h-4 M43.75,203.8v-4 M43.75,11.2v4 M87.00,203.8v-2 M87.00,11.2v2 M130.25,203.8v-4 M130.25,11.2v4 M173.50,203.8v-2 M173.50,11.2v2 M216.75,203.8v-4 M216.75,11.2v4 M260.00,203.8v-2 M260.00,11.2v2 M303.25,203.8v-4 M303.25,11.2v4" stroke="#111" stroke-width="1.2" fill="none"/><text transform="translate(23.99,16.50) scale(1.030,1)" font-family="Liberation Serif" font-size="13.2" fill="#111">0.5</text><text transform="translate(23.99,54.50) scale(1.030,1)" font-family="Liberation Serif" font-size="13.2" fill="#111">0.4</text><text transform="translate(23.99,92.70) scale(1.030,1)" font-family="Liberation Serif" font-size="13.2" fill="#111">0.3</text><text transform="translate(23.99,130.75) scale(1.030,1)" font-family="Liberation Serif" font-size="13.2" fill="#111">0.2</text><text transform="translate(23.99,168.80) scale(1.030,1)" font-family="Liberation Serif" font-size="13.2" fill="#111">0.1</text><text transform="translate(30.79,206.30) scale(1.030,1)" font-family="Liberation Serif" font-size="13.2" fill="#111">0</text><text transform="translate(34.20,217.60) scale(1.030,1)" font-family="Liberation Serif" font-size="13.5" fill="#111">500</text><text transform="translate(119.66,217.60) scale(1.030,1)" font-family="Liberation Serif" font-size="13.5" fill="#111">600</text><text transform="translate(204.35,217.60) scale(1.030,1)" font-family="Liberation Serif" font-size="13.5" fill="#111">700</text><text transform="translate(289.73,217.60) scale(1.030,1)" font-family="Liberation Serif" font-size="13.5" fill="#111">800</text><text transform="translate(128.60,232.60) scale(1.000,1)" font-family="Liberation Serif" font-size="13.7" fill="#111">Wavelength (nm)</text><g transform="translate(20.4,151.2) rotate(-90)"><text transform="translate(-0.49,0.00) scale(1.085,1)" font-family="Liberation Serif" font-size="12.8" fill="#111">Intensity (arb. units)</text></g><line x1="54.4" y1="25.5" x2="88.3" y2="25.5" stroke="#40599d" stroke-width="2.3"/><line x1="55.7" y1="44.3" x2="87" y2="44.3" stroke="#111" stroke-width="1.3"/><text transform="translate(91.52,28.50) scale(1.040,1)" font-family="Liberation Serif" font-size="12" fill="#111">normalized integral curve</text><text transform="translate(91.10,47.10) scale(1.040,1)" font-family="Liberation Serif" font-size="12" fill="#111">single measurment</text><text transform="translate(54.39,78.20) scale(1.060,1)" font-family="Liberation Serif" font-size="16" fill="#111">θ</text><text transform="translate(63.59,72.10) scale(1.010,1)" font-family="Liberation Serif" font-size="11" font-style="italic" fill="#111">i,quartz</text><text transform="translate(99.17,78.60) scale(1.000,1)" font-family="Liberation Serif" font-size="16.6" fill="#111">=30°</text><text transform="translate(54.55,128.50) scale(1.000,1)" font-family="Liberation Serif" font-size="13.6" fill="#111">θ</text><text transform="translate(62.89,121.00) scale(0.850,1)" font-family="Liberation Serif" font-size="10" font-style="italic" fill="#111">s</text><text transform="translate(66.33,128.00) scale(0.900,1)" font-family="Liberation Serif" font-size="12.6" fill="#111">=</text><text transform="translate(75.49,128.30) scale(1.060,1)" font-family="Liberation Serif" font-size="12.9" fill="#111">-31°</text><path d="M54.4,130.9H77.6L82.3,182.5" fill="none" stroke="#111" stroke-width="1.1"/><path d="M82.4,182.6L79.4,176L85.1,176Z" fill="#111"/><text transform="translate(218.94,130.00) scale(1.000,1)" font-family="Liberation Serif" font-size="13.8" fill="#111">θ</text><text transform="translate(226.99,121.60) scale(0.850,1)" font-family="Liberation Serif" font-size="10" font-style="italic" fill="#111">s</text><text transform="translate(231.33,129.20) scale(0.900,1)" font-family="Liberation Serif" font-size="12.6" fill="#111">=</text><text transform="translate(241.08,129.90) scale(1.000,1)" font-family="Liberation Serif" font-size="13.8" fill="#111">-5°</text><path d="M242,132.4H218.6L206,173.5" fill="none" stroke="#111" stroke-width="1.1"/><path d="M206,174L204.75,168.1L210.4,168.75Z" fill="#111"/></g></svg></body></html>
